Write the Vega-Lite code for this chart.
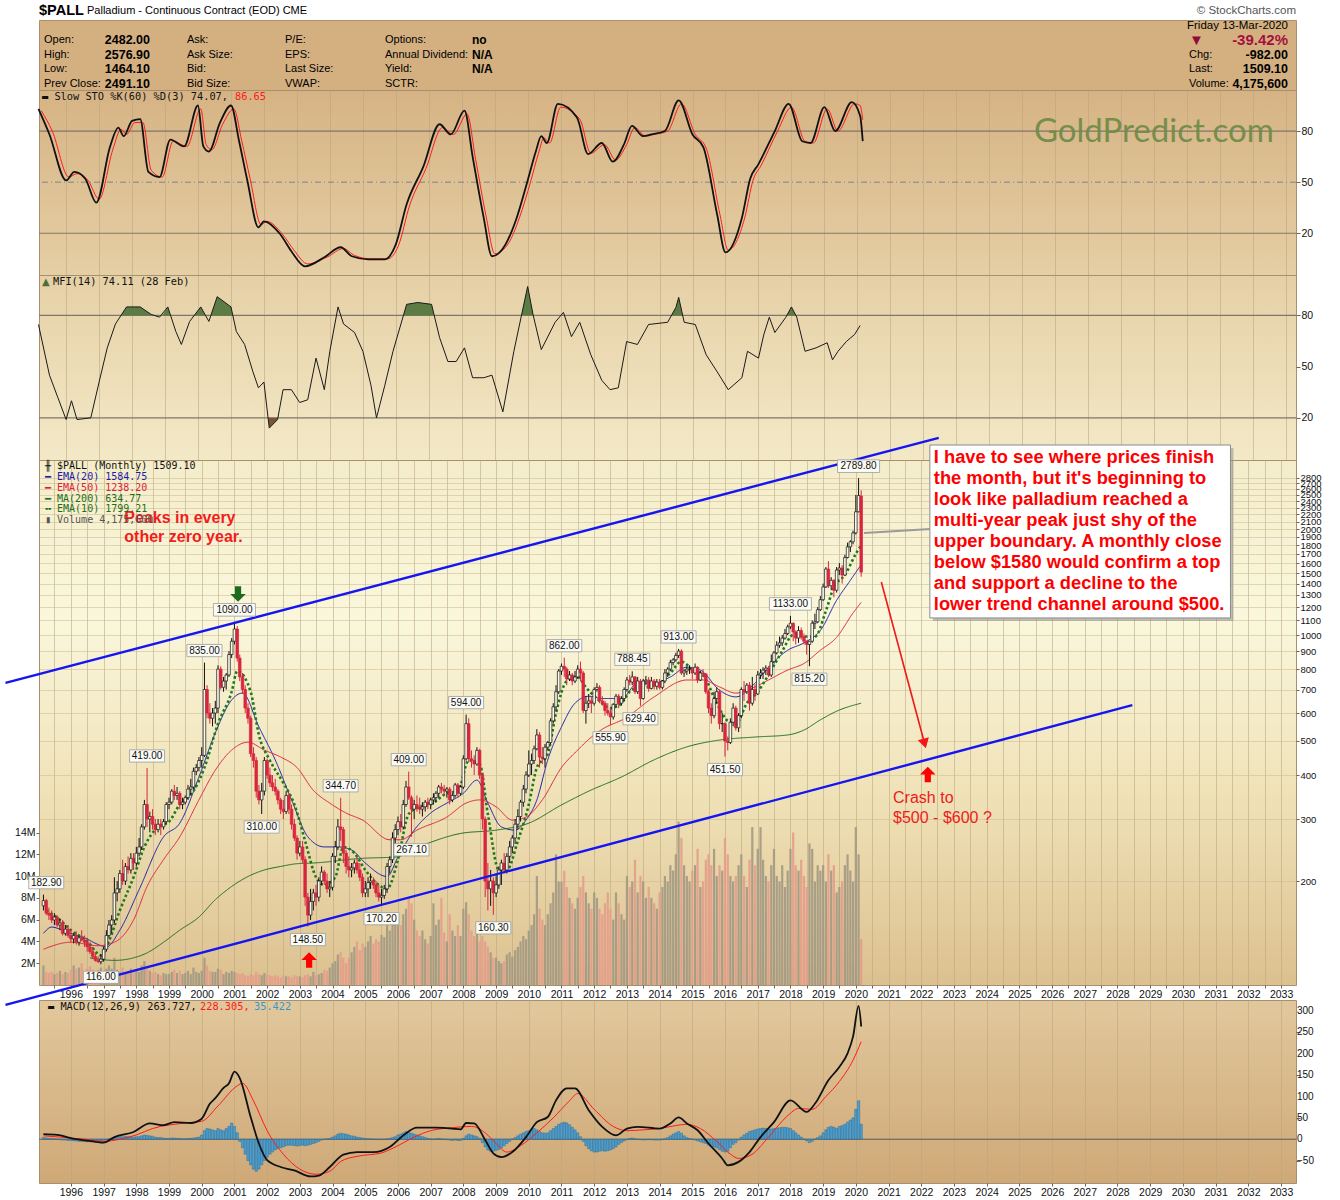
{
  "$schema": "https://vega.github.io/schema/vega-lite/v6.json",
  "background": "#ffffff",
  "padding": {"left": 0, "top": 2, "right": 0, "bottom": 0},
  "config": {
    "view": {"stroke": "#a8906e", "strokeWidth": 1},
    "font": "Liberation Sans",
    "axis": {
      "labelFont": "Liberation Sans", "labelFontSize": 10, "labelColor": "#111111", "labelOverlap": false,
      "domain": false, "tickColor": "#6e6455", "gridColor": "#b9a47e", "gridOpacity": 0.55, "gridWidth": 1
    }
  },
  "datasets": {
    "px": [
      {"d":"1995-03","o":170,"h":182.9,"l":165,"c":176,"v":1.8,"hs":4},
      {"d":"1995-04","o":176,"h":178,"l":160,"c":162,"v":1.2,"hs":3},
      {"d":"1995-05","o":162,"h":168,"l":155,"c":160,"v":1.1,"hs":2},
      {"d":"1995-06","o":160,"h":165,"l":152,"c":155,"v":1.2,"hs":2},
      {"d":"1995-07","o":155,"h":162,"l":150,"c":158,"v":1.0,"hs":1},
      {"d":"1995-08","o":158,"h":160,"l":148,"c":150,"v":1.1,"hs":0},
      {"d":"1995-09","o":150,"h":156,"l":145,"c":152,"v":1.3,"hs":-1},
      {"d":"1995-10","o":152,"h":155,"l":140,"c":142,"v":1.0,"hs":-2},
      {"d":"1995-11","o":142,"h":150,"l":140,"c":146,"v":1.2,"hs":-2},
      {"d":"1995-12","o":146,"h":150,"l":138,"c":140,"v":1.1,"hs":-3},
      {"d":"1996-01","o":140,"h":146,"l":134,"c":137,"v":1.4,"hs":-3},
      {"d":"1996-02","o":137,"h":142,"l":133,"c":140,"v":1.8,"hs":-4},
      {"d":"1996-03","o":140,"h":144,"l":132,"c":134,"v":1.5,"hs":-4},
      {"d":"1996-04","o":134,"h":140,"l":131,"c":138,"v":1.6,"hs":-5},
      {"d":"1996-05","o":138,"h":145,"l":135,"c":136,"v":2.0,"hs":-5},
      {"d":"1996-06","o":136,"h":140,"l":130,"c":134,"v":1.3,"hs":-5},
      {"d":"1996-07","o":134,"h":138,"l":126,"c":130,"v":1.5,"hs":-6},
      {"d":"1996-08","o":130,"h":134,"l":124,"c":126,"v":1.7,"hs":-6},
      {"d":"1996-09","o":126,"h":130,"l":120,"c":122,"v":1.4,"hs":-6},
      {"d":"1996-10","o":122,"h":125,"l":118,"c":119,"v":1.2,"hs":-5},
      {"d":"1996-11","o":119,"h":122,"l":117,"c":118,"v":1.4,"hs":-5},
      {"d":"1996-12","o":118,"h":124,"l":116,"c":120,"v":1.6,"hs":-4},
      {"d":"1997-01","o":120,"h":130,"l":118,"c":128,"v":1.2,"hs":-3},
      {"d":"1997-02","o":128,"h":145,"l":126,"c":140,"v":1.5,"hs":-1},
      {"d":"1997-03","o":140,"h":155,"l":138,"c":150,"v":1.8,"hs":1},
      {"d":"1997-04","o":150,"h":160,"l":142,"c":155,"v":1.5,"hs":3},
      {"d":"1997-05","o":155,"h":205,"l":152,"c":185,"v":2.5,"hs":5},
      {"d":"1997-06","o":185,"h":200,"l":175,"c":190,"v":1.4,"hs":6},
      {"d":"1997-07","o":190,"h":215,"l":185,"c":210,"v":1.2,"hs":6},
      {"d":"1997-08","o":210,"h":230,"l":195,"c":200,"v":1.6,"hs":6},
      {"d":"1997-09","o":200,"h":225,"l":195,"c":220,"v":1.1,"hs":7},
      {"d":"1997-10","o":220,"h":235,"l":210,"c":215,"v":1.3,"hs":6},
      {"d":"1997-11","o":215,"h":240,"l":210,"c":232,"v":1.5,"hs":6},
      {"d":"1997-12","o":232,"h":240,"l":215,"c":225,"v":1.2,"hs":5},
      {"d":"1998-01","o":225,"h":250,"l":220,"c":240,"v":1.4,"hs":6},
      {"d":"1998-02","o":240,"h":265,"l":235,"c":250,"v":1.2,"hs":6},
      {"d":"1998-03","o":250,"h":290,"l":245,"c":285,"v":1.8,"hs":8},
      {"d":"1998-04","o":285,"h":340,"l":280,"c":330,"v":2.2,"hs":10},
      {"d":"1998-05","o":330,"h":419,"l":285,"c":300,"v":1.5,"hs":9},
      {"d":"1998-06","o":300,"h":315,"l":275,"c":305,"v":1.3,"hs":8},
      {"d":"1998-07","o":305,"h":320,"l":280,"c":290,"v":1.1,"hs":7},
      {"d":"1998-08","o":290,"h":300,"l":270,"c":280,"v":1.2,"hs":5},
      {"d":"1998-09","o":280,"h":300,"l":275,"c":290,"v":1.0,"hs":4},
      {"d":"1998-10","o":290,"h":300,"l":270,"c":285,"v":0.9,"hs":4},
      {"d":"1998-11","o":285,"h":300,"l":280,"c":295,"v":1.1,"hs":3},
      {"d":"1998-12","o":295,"h":335,"l":290,"c":330,"v":1.0,"hs":2},
      {"d":"1999-01","o":330,"h":345,"l":320,"c":335,"v":1.0,"hs":2},
      {"d":"1999-02","o":335,"h":365,"l":330,"c":360,"v":1.2,"hs":3},
      {"d":"1999-03","o":360,"h":375,"l":340,"c":350,"v":1.4,"hs":3},
      {"d":"1999-04","o":350,"h":370,"l":340,"c":355,"v":1.1,"hs":2},
      {"d":"1999-05","o":355,"h":360,"l":320,"c":330,"v":1.3,"hs":2},
      {"d":"1999-06","o":330,"h":345,"l":320,"c":335,"v":1.0,"hs":1},
      {"d":"1999-07","o":335,"h":350,"l":330,"c":345,"v":1.1,"hs":1},
      {"d":"1999-08","o":345,"h":375,"l":340,"c":365,"v":1.3,"hs":2},
      {"d":"1999-09","o":365,"h":390,"l":350,"c":370,"v":1.0,"hs":2},
      {"d":"1999-10","o":370,"h":420,"l":365,"c":410,"v":1.6,"hs":3},
      {"d":"1999-11","o":410,"h":430,"l":400,"c":420,"v":1.2,"hs":4},
      {"d":"1999-12","o":420,"h":450,"l":410,"c":440,"v":1.1,"hs":5},
      {"d":"2000-01","o":440,"h":480,"l":420,"c":455,"v":1.3,"hs":10},
      {"d":"2000-02","o":455,"h":835,"l":450,"c":700,"v":2.5,"hs":20},
      {"d":"2000-03","o":700,"h":720,"l":580,"c":600,"v":1.8,"hs":25},
      {"d":"2000-04","o":600,"h":640,"l":560,"c":580,"v":1.3,"hs":24},
      {"d":"2000-05","o":580,"h":620,"l":550,"c":600,"v":1.2,"hs":22},
      {"d":"2000-06","o":600,"h":650,"l":560,"c":620,"v":1.2,"hs":20},
      {"d":"2000-07","o":620,"h":820,"l":600,"c":800,"v":1.5,"hs":25},
      {"d":"2000-08","o":800,"h":815,"l":700,"c":710,"v":1.4,"hs":22},
      {"d":"2000-09","o":710,"h":760,"l":690,"c":740,"v":1.0,"hs":20},
      {"d":"2000-10","o":740,"h":780,"l":700,"c":770,"v":1.2,"hs":25},
      {"d":"2000-11","o":770,"h":900,"l":760,"c":880,"v":1.1,"hs":30},
      {"d":"2000-12","o":880,"h":980,"l":860,"c":960,"v":1.3,"hs":38},
      {"d":"2001-01","o":960,"h":1090,"l":940,"c":1040,"v":1.2,"hs":30},
      {"d":"2001-02","o":1040,"h":1060,"l":840,"c":860,"v":1.1,"hs":15},
      {"d":"2001-03","o":860,"h":880,"l":740,"c":760,"v":1.0,"hs":-5},
      {"d":"2001-04","o":760,"h":780,"l":680,"c":700,"v":1.1,"hs":-20},
      {"d":"2001-05","o":700,"h":720,"l":600,"c":620,"v":0.9,"hs":-35},
      {"d":"2001-06","o":620,"h":640,"l":560,"c":580,"v":0.8,"hs":-50},
      {"d":"2001-07","o":580,"h":590,"l":450,"c":460,"v":1.0,"hs":-60},
      {"d":"2001-08","o":460,"h":480,"l":420,"c":440,"v":0.9,"hs":-70},
      {"d":"2001-09","o":440,"h":450,"l":345,"c":360,"v":1.2,"hs":-75},
      {"d":"2001-10","o":360,"h":375,"l":330,"c":340,"v":1.0,"hs":-70},
      {"d":"2001-11","o":340,"h":380,"l":310,"c":360,"v":0.9,"hs":-60},
      {"d":"2001-12","o":360,"h":450,"l":350,"c":440,"v":1.1,"hs":-50},
      {"d":"2002-01","o":440,"h":445,"l":390,"c":400,"v":1.0,"hs":-42},
      {"d":"2002-02","o":400,"h":420,"l":370,"c":380,"v":0.9,"hs":-35},
      {"d":"2002-03","o":380,"h":400,"l":360,"c":370,"v":0.8,"hs":-30},
      {"d":"2002-04","o":370,"h":390,"l":350,"c":360,"v":0.9,"hs":-25},
      {"d":"2002-05","o":360,"h":365,"l":330,"c":340,"v":0.8,"hs":-22},
      {"d":"2002-06","o":340,"h":345,"l":310,"c":320,"v":0.7,"hs":-20},
      {"d":"2002-07","o":320,"h":340,"l":300,"c":315,"v":0.9,"hs":-18},
      {"d":"2002-08","o":315,"h":360,"l":310,"c":350,"v":0.8,"hs":-15},
      {"d":"2002-09","o":350,"h":355,"l":310,"c":320,"v":0.8,"hs":-14},
      {"d":"2002-10","o":320,"h":330,"l":280,"c":290,"v":0.7,"hs":-14},
      {"d":"2002-11","o":290,"h":300,"l":260,"c":265,"v":0.9,"hs":-15},
      {"d":"2002-12","o":265,"h":270,"l":230,"c":240,"v":0.8,"hs":-16},
      {"d":"2003-01","o":240,"h":260,"l":235,"c":250,"v":0.8,"hs":-15},
      {"d":"2003-02","o":250,"h":260,"l":225,"c":230,"v":0.7,"hs":-14},
      {"d":"2003-03","o":230,"h":235,"l":170,"c":180,"v":0.9,"hs":-15},
      {"d":"2003-04","o":180,"h":185,"l":148.5,"c":160,"v":1.0,"hs":-14},
      {"d":"2003-05","o":160,"h":190,"l":155,"c":175,"v":0.8,"hs":-12},
      {"d":"2003-06","o":175,"h":190,"l":165,"c":185,"v":1.2,"hs":-10},
      {"d":"2003-07","o":185,"h":195,"l":170,"c":180,"v":0.9,"hs":-8},
      {"d":"2003-08","o":180,"h":205,"l":175,"c":200,"v":1.0,"hs":-5},
      {"d":"2003-09","o":200,"h":220,"l":195,"c":212,"v":1.1,"hs":-2},
      {"d":"2003-10","o":212,"h":215,"l":195,"c":200,"v":1.4,"hs":0},
      {"d":"2003-11","o":200,"h":210,"l":185,"c":190,"v":1.3,"hs":1},
      {"d":"2003-12","o":190,"h":200,"l":180,"c":192,"v":1.6,"hs":2},
      {"d":"2004-01","o":192,"h":240,"l":188,"c":235,"v":2.0,"hs":5},
      {"d":"2004-02","o":235,"h":260,"l":225,"c":250,"v":2.2,"hs":8},
      {"d":"2004-03","o":250,"h":300,"l":245,"c":285,"v":2.8,"hs":12},
      {"d":"2004-04","o":285,"h":344.7,"l":260,"c":280,"v":3.0,"hs":14},
      {"d":"2004-05","o":280,"h":285,"l":225,"c":240,"v":2.5,"hs":13},
      {"d":"2004-06","o":240,"h":245,"l":210,"c":220,"v":2.0,"hs":12},
      {"d":"2004-07","o":220,"h":235,"l":205,"c":215,"v":2.5,"hs":10},
      {"d":"2004-08","o":215,"h":225,"l":205,"c":218,"v":3.0,"hs":8},
      {"d":"2004-09","o":218,"h":230,"l":210,"c":225,"v":3.5,"hs":7},
      {"d":"2004-10","o":225,"h":235,"l":210,"c":215,"v":4.0,"hs":5},
      {"d":"2004-11","o":215,"h":225,"l":200,"c":205,"v":3.2,"hs":4},
      {"d":"2004-12","o":205,"h":210,"l":180,"c":185,"v":3.8,"hs":3},
      {"d":"2005-01","o":185,"h":200,"l":180,"c":190,"v":3.5,"hs":2},
      {"d":"2005-02","o":190,"h":205,"l":180,"c":198,"v":4.0,"hs":1},
      {"d":"2005-03","o":198,"h":210,"l":190,"c":200,"v":4.5,"hs":1},
      {"d":"2005-04","o":200,"h":205,"l":190,"c":195,"v":3.8,"hs":0},
      {"d":"2005-05","o":195,"h":200,"l":180,"c":185,"v":4.2,"hs":0},
      {"d":"2005-06","o":185,"h":195,"l":175,"c":180,"v":4.0,"hs":-1},
      {"d":"2005-07","o":180,"h":190,"l":170.2,"c":182,"v":4.6,"hs":0},
      {"d":"2005-08","o":182,"h":195,"l":178,"c":190,"v":4.4,"hs":0},
      {"d":"2005-09","o":190,"h":225,"l":185,"c":220,"v":5.5,"hs":1},
      {"d":"2005-10","o":220,"h":235,"l":210,"c":230,"v":5.0,"hs":2},
      {"d":"2005-11","o":230,"h":275,"l":225,"c":265,"v":6.0,"hs":4},
      {"d":"2005-12","o":265,"h":290,"l":255,"c":280,"v":6.4,"hs":6},
      {"d":"2006-01","o":280,"h":305,"l":270,"c":295,"v":6.0,"hs":10},
      {"d":"2006-02","o":295,"h":310,"l":275,"c":285,"v":5.5,"hs":12},
      {"d":"2006-03","o":285,"h":340,"l":280,"c":330,"v":6.5,"hs":15},
      {"d":"2006-04","o":330,"h":385,"l":325,"c":370,"v":7.0,"hs":18},
      {"d":"2006-05","o":370,"h":409,"l":340,"c":345,"v":8.0,"hs":16},
      {"d":"2006-06","o":345,"h":350,"l":267.1,"c":320,"v":7.5,"hs":14},
      {"d":"2006-07","o":320,"h":340,"l":300,"c":330,"v":6.0,"hs":12},
      {"d":"2006-08","o":330,"h":350,"l":315,"c":325,"v":5.0,"hs":10},
      {"d":"2006-09","o":325,"h":345,"l":310,"c":320,"v":4.5,"hs":8},
      {"d":"2006-10","o":320,"h":335,"l":305,"c":325,"v":5.0,"hs":6},
      {"d":"2006-11","o":325,"h":340,"l":315,"c":335,"v":4.2,"hs":4},
      {"d":"2006-12","o":335,"h":345,"l":320,"c":330,"v":3.8,"hs":2},
      {"d":"2007-01","o":330,"h":345,"l":320,"c":340,"v":4.5,"hs":1},
      {"d":"2007-02","o":340,"h":355,"l":330,"c":345,"v":7.5,"hs":0},
      {"d":"2007-03","o":345,"h":360,"l":335,"c":355,"v":5.5,"hs":1},
      {"d":"2007-04","o":355,"h":375,"l":345,"c":370,"v":6.0,"hs":2},
      {"d":"2007-05","o":370,"h":380,"l":355,"c":365,"v":8.0,"hs":1},
      {"d":"2007-06","o":365,"h":375,"l":350,"c":360,"v":4.8,"hs":0},
      {"d":"2007-07","o":360,"h":370,"l":345,"c":365,"v":4.0,"hs":-1},
      {"d":"2007-08","o":365,"h":370,"l":330,"c":340,"v":6.5,"hs":-2},
      {"d":"2007-09","o":340,"h":355,"l":335,"c":350,"v":5.0,"hs":-3},
      {"d":"2007-10","o":350,"h":380,"l":345,"c":375,"v":4.5,"hs":-2},
      {"d":"2007-11","o":375,"h":380,"l":345,"c":355,"v":5.5,"hs":-3},
      {"d":"2007-12","o":355,"h":375,"l":350,"c":370,"v":4.5,"hs":-3},
      {"d":"2008-01","o":370,"h":455,"l":365,"c":445,"v":7.0,"hs":2},
      {"d":"2008-02","o":445,"h":594,"l":440,"c":560,"v":7.6,"hs":8},
      {"d":"2008-03","o":560,"h":580,"l":435,"c":445,"v":6.5,"hs":12},
      {"d":"2008-04","o":445,"h":470,"l":420,"c":440,"v":5.0,"hs":10},
      {"d":"2008-05","o":440,"h":455,"l":400,"c":430,"v":4.5,"hs":8},
      {"d":"2008-06","o":430,"h":480,"l":425,"c":470,"v":5.0,"hs":6},
      {"d":"2008-07","o":470,"h":475,"l":390,"c":400,"v":4.0,"hs":2},
      {"d":"2008-08","o":400,"h":405,"l":280,"c":300,"v":4.5,"hs":-8},
      {"d":"2008-09","o":300,"h":305,"l":180,"c":200,"v":4.0,"hs":-18},
      {"d":"2008-10","o":200,"h":225,"l":165,"c":190,"v":3.5,"hs":-25},
      {"d":"2008-11","o":190,"h":215,"l":170,"c":200,"v":3.0,"hs":-28},
      {"d":"2008-12","o":200,"h":205,"l":160.3,"c":185,"v":2.5,"hs":-28},
      {"d":"2009-01","o":185,"h":210,"l":180,"c":195,"v":2.5,"hs":-26},
      {"d":"2009-02","o":195,"h":220,"l":190,"c":215,"v":2.2,"hs":-24},
      {"d":"2009-03","o":215,"h":230,"l":195,"c":225,"v":2.0,"hs":-20},
      {"d":"2009-04","o":225,"h":240,"l":210,"c":215,"v":2.2,"hs":-15},
      {"d":"2009-05","o":215,"h":240,"l":210,"c":235,"v":2.8,"hs":-10},
      {"d":"2009-06","o":235,"h":260,"l":225,"c":250,"v":3.0,"hs":-5},
      {"d":"2009-07","o":250,"h":270,"l":240,"c":265,"v":2.6,"hs":0},
      {"d":"2009-08","o":265,"h":300,"l":255,"c":290,"v":3.2,"hs":4},
      {"d":"2009-09","o":290,"h":320,"l":280,"c":305,"v":3.5,"hs":8},
      {"d":"2009-10","o":305,"h":340,"l":295,"c":335,"v":4.0,"hs":12},
      {"d":"2009-11","o":335,"h":375,"l":325,"c":365,"v":4.5,"hs":15},
      {"d":"2009-12","o":365,"h":410,"l":355,"c":400,"v":4.2,"hs":18},
      {"d":"2010-01","o":400,"h":470,"l":395,"c":430,"v":5.0,"hs":20},
      {"d":"2010-02","o":430,"h":460,"l":400,"c":440,"v":5.5,"hs":22},
      {"d":"2010-03","o":440,"h":485,"l":430,"c":475,"v":6.5,"hs":25},
      {"d":"2010-04","o":475,"h":540,"l":470,"c":520,"v":10.0,"hs":22},
      {"d":"2010-05","o":520,"h":530,"l":420,"c":450,"v":7.0,"hs":18},
      {"d":"2010-06","o":450,"h":480,"l":430,"c":445,"v":6.0,"hs":15},
      {"d":"2010-07","o":445,"h":490,"l":420,"c":480,"v":5.5,"hs":14},
      {"d":"2010-08","o":480,"h":500,"l":470,"c":495,"v":6.5,"hs":15},
      {"d":"2010-09","o":495,"h":580,"l":490,"c":570,"v":7.5,"hs":20},
      {"d":"2010-10","o":570,"h":640,"l":560,"c":625,"v":8.5,"hs":25},
      {"d":"2010-11","o":625,"h":720,"l":610,"c":690,"v":12.0,"hs":30},
      {"d":"2010-12","o":690,"h":800,"l":680,"c":790,"v":9.5,"hs":35},
      {"d":"2011-01","o":790,"h":830,"l":770,"c":815,"v":9.5,"hs":38},
      {"d":"2011-02","o":815,"h":862,"l":760,"c":800,"v":10.5,"hs":40},
      {"d":"2011-03","o":800,"h":810,"l":720,"c":750,"v":9.0,"hs":38},
      {"d":"2011-04","o":750,"h":790,"l":740,"c":770,"v":8.0,"hs":34},
      {"d":"2011-05","o":770,"h":780,"l":720,"c":740,"v":7.5,"hs":28},
      {"d":"2011-06","o":740,"h":790,"l":730,"c":760,"v":7.0,"hs":22},
      {"d":"2011-07","o":760,"h":820,"l":750,"c":800,"v":8.0,"hs":15},
      {"d":"2011-08","o":800,"h":840,"l":740,"c":780,"v":9.0,"hs":6},
      {"d":"2011-09","o":780,"h":790,"l":600,"c":610,"v":10.0,"hs":-5},
      {"d":"2011-10","o":610,"h":670,"l":560,"c":640,"v":8.5,"hs":-15},
      {"d":"2011-11","o":640,"h":680,"l":620,"c":650,"v":7.5,"hs":-22},
      {"d":"2011-12","o":650,"h":670,"l":600,"c":640,"v":7.0,"hs":-27},
      {"d":"2012-01","o":640,"h":710,"l":630,"c":700,"v":8.5,"hs":-30},
      {"d":"2012-02","o":700,"h":730,"l":690,"c":710,"v":8.0,"hs":-30},
      {"d":"2012-03","o":710,"h":720,"l":640,"c":650,"v":7.0,"hs":-28},
      {"d":"2012-04","o":650,"h":670,"l":630,"c":640,"v":6.5,"hs":-27},
      {"d":"2012-05","o":640,"h":650,"l":590,"c":610,"v":7.5,"hs":-28},
      {"d":"2012-06","o":610,"h":640,"l":590,"c":600,"v":8.5,"hs":-27},
      {"d":"2012-07","o":600,"h":620,"l":555.9,"c":585,"v":7.0,"hs":-25},
      {"d":"2012-08","o":585,"h":640,"l":575,"c":635,"v":6.0,"hs":-22},
      {"d":"2012-09","o":635,"h":680,"l":625,"c":670,"v":8.5,"hs":-18},
      {"d":"2012-10","o":670,"h":680,"l":620,"c":640,"v":7.5,"hs":-12},
      {"d":"2012-11","o":640,"h":670,"l":630,"c":660,"v":6.5,"hs":-8},
      {"d":"2012-12","o":660,"h":710,"l":650,"c":700,"v":6.0,"hs":-4},
      {"d":"2013-01","o":700,"h":760,"l":690,"c":745,"v":10.0,"hs":-1},
      {"d":"2013-02","o":745,"h":770,"l":720,"c":735,"v":9.0,"hs":2},
      {"d":"2013-03","o":735,"h":788.45,"l":720,"c":760,"v":9.5,"hs":3},
      {"d":"2013-04","o":760,"h":765,"l":680,"c":690,"v":11.5,"hs":1},
      {"d":"2013-05","o":690,"h":760,"l":680,"c":740,"v":8.5,"hs":0},
      {"d":"2013-06","o":740,"h":750,"l":629.4,"c":660,"v":10.0,"hs":-1},
      {"d":"2013-07","o":660,"h":750,"l":655,"c":740,"v":9.5,"hs":-2},
      {"d":"2013-08","o":740,"h":765,"l":720,"c":745,"v":8.0,"hs":-1},
      {"d":"2013-09","o":745,"h":760,"l":690,"c":705,"v":9.0,"hs":-1},
      {"d":"2013-10","o":705,"h":760,"l":700,"c":740,"v":8.0,"hs":-1},
      {"d":"2013-11","o":740,"h":750,"l":700,"c":715,"v":7.5,"hs":-2},
      {"d":"2013-12","o":715,"h":750,"l":700,"c":735,"v":7.0,"hs":-2},
      {"d":"2014-01","o":735,"h":750,"l":700,"c":710,"v":8.5,"hs":-2},
      {"d":"2014-02","o":710,"h":745,"l":700,"c":740,"v":9.0,"hs":-1},
      {"d":"2014-03","o":740,"h":800,"l":730,"c":780,"v":10.0,"hs":1},
      {"d":"2014-04","o":780,"h":810,"l":760,"c":800,"v":9.5,"hs":4},
      {"d":"2014-05","o":800,"h":850,"l":790,"c":835,"v":11.0,"hs":8},
      {"d":"2014-06","o":835,"h":860,"l":820,"c":850,"v":10.5,"hs":12},
      {"d":"2014-07","o":850,"h":890,"l":840,"c":875,"v":12.0,"hs":15},
      {"d":"2014-08","o":875,"h":913,"l":860,"c":900,"v":15.0,"hs":18},
      {"d":"2014-09","o":900,"h":910,"l":770,"c":780,"v":13.5,"hs":14},
      {"d":"2014-10","o":780,"h":800,"l":760,"c":790,"v":11.0,"hs":8},
      {"d":"2014-11","o":790,"h":815,"l":770,"c":800,"v":10.0,"hs":4},
      {"d":"2014-12","o":800,"h":820,"l":775,"c":800,"v":9.5,"hs":2},
      {"d":"2015-01","o":800,"h":810,"l":750,"c":780,"v":10.5,"hs":0},
      {"d":"2015-02","o":780,"h":830,"l":770,"c":810,"v":11.0,"hs":-2},
      {"d":"2015-03","o":810,"h":815,"l":730,"c":745,"v":12.5,"hs":-4},
      {"d":"2015-04","o":745,"h":790,"l":740,"c":780,"v":9.0,"hs":-6},
      {"d":"2015-05","o":780,"h":800,"l":760,"c":775,"v":9.5,"hs":-8},
      {"d":"2015-06","o":775,"h":780,"l":680,"c":690,"v":11.5,"hs":-10},
      {"d":"2015-07","o":690,"h":700,"l":600,"c":620,"v":12.0,"hs":-14},
      {"d":"2015-08","o":620,"h":640,"l":560,"c":590,"v":11.0,"hs":-18},
      {"d":"2015-09","o":590,"h":690,"l":580,"c":660,"v":12.5,"hs":-18},
      {"d":"2015-10","o":660,"h":710,"l":640,"c":690,"v":10.0,"hs":-20},
      {"d":"2015-11","o":690,"h":700,"l":540,"c":560,"v":11.0,"hs":-24},
      {"d":"2015-12","o":560,"h":600,"l":530,"c":560,"v":10.5,"hs":-28},
      {"d":"2016-01","o":560,"h":565,"l":451.5,"c":500,"v":13.5,"hs":-30},
      {"d":"2016-02","o":500,"h":515,"l":470,"c":495,"v":12.0,"hs":-28},
      {"d":"2016-03","o":495,"h":580,"l":490,"c":565,"v":10.0,"hs":-20},
      {"d":"2016-04","o":565,"h":640,"l":550,"c":620,"v":9.5,"hs":-12},
      {"d":"2016-05","o":620,"h":630,"l":535,"c":545,"v":10.0,"hs":-8},
      {"d":"2016-06","o":545,"h":600,"l":530,"c":590,"v":11.0,"hs":-2},
      {"d":"2016-07","o":590,"h":710,"l":580,"c":700,"v":12.0,"hs":5},
      {"d":"2016-08","o":700,"h":740,"l":650,"c":690,"v":10.0,"hs":10},
      {"d":"2016-09","o":690,"h":730,"l":680,"c":720,"v":9.0,"hs":14},
      {"d":"2016-10","o":720,"h":735,"l":610,"c":640,"v":11.5,"hs":18},
      {"d":"2016-11","o":640,"h":760,"l":630,"c":700,"v":14.5,"hs":20},
      {"d":"2016-12","o":700,"h":725,"l":650,"c":680,"v":11.0,"hs":22},
      {"d":"2017-01","o":680,"h":790,"l":675,"c":770,"v":12.5,"hs":24},
      {"d":"2017-02","o":770,"h":800,"l":750,"c":780,"v":14.5,"hs":25},
      {"d":"2017-03","o":780,"h":810,"l":750,"c":795,"v":11.5,"hs":26},
      {"d":"2017-04","o":795,"h":820,"l":770,"c":805,"v":10.0,"hs":25},
      {"d":"2017-05","o":805,"h":815,"l":760,"c":770,"v":9.5,"hs":24},
      {"d":"2017-06","o":770,"h":880,"l":760,"c":840,"v":11.0,"hs":24},
      {"d":"2017-07","o":840,"h":900,"l":830,"c":890,"v":12.5,"hs":25},
      {"d":"2017-08","o":890,"h":960,"l":880,"c":935,"v":10.0,"hs":26},
      {"d":"2017-09","o":935,"h":990,"l":920,"c":950,"v":9.5,"hs":27},
      {"d":"2017-10","o":950,"h":1000,"l":930,"c":980,"v":11.0,"hs":28},
      {"d":"2017-11","o":980,"h":1040,"l":970,"c":1010,"v":9.0,"hs":28},
      {"d":"2017-12","o":1010,"h":1070,"l":1000,"c":1055,"v":10.5,"hs":27},
      {"d":"2018-01","o":1055,"h":1133,"l":1040,"c":1080,"v":12.5,"hs":25},
      {"d":"2018-02","o":1080,"h":1085,"l":960,"c":1020,"v":14.0,"hs":20},
      {"d":"2018-03","o":1020,"h":1030,"l":940,"c":980,"v":11.0,"hs":15},
      {"d":"2018-04","o":980,"h":1060,"l":950,"c":1030,"v":10.5,"hs":10},
      {"d":"2018-05","o":1030,"h":1050,"l":970,"c":990,"v":11.5,"hs":5},
      {"d":"2018-06","o":990,"h":1010,"l":940,"c":960,"v":10.0,"hs":0},
      {"d":"2018-07","o":960,"h":965,"l":880,"c":940,"v":9.0,"hs":-4},
      {"d":"2018-08","o":940,"h":960,"l":815.2,"c":960,"v":13.0,"hs":-8},
      {"d":"2018-09","o":960,"h":1100,"l":950,"c":1080,"v":12.5,"hs":-5},
      {"d":"2018-10","o":1080,"h":1150,"l":1040,"c":1090,"v":9.5,"hs":0},
      {"d":"2018-11","o":1090,"h":1200,"l":1080,"c":1180,"v":11.0,"hs":4},
      {"d":"2018-12","o":1180,"h":1290,"l":1170,"c":1260,"v":10.5,"hs":8},
      {"d":"2019-01","o":1260,"h":1400,"l":1250,"c":1370,"v":11.0,"hs":15},
      {"d":"2019-02","o":1370,"h":1560,"l":1360,"c":1540,"v":9.5,"hs":22},
      {"d":"2019-03","o":1540,"h":1620,"l":1360,"c":1380,"v":12.0,"hs":28},
      {"d":"2019-04","o":1380,"h":1460,"l":1340,"c":1430,"v":10.5,"hs":30},
      {"d":"2019-05","o":1430,"h":1440,"l":1280,"c":1340,"v":11.0,"hs":28},
      {"d":"2019-06","o":1340,"h":1560,"l":1320,"c":1530,"v":8.5,"hs":26},
      {"d":"2019-07","o":1530,"h":1600,"l":1480,"c":1550,"v":9.0,"hs":30},
      {"d":"2019-08","o":1550,"h":1580,"l":1400,"c":1480,"v":9.5,"hs":32},
      {"d":"2019-09","o":1480,"h":1690,"l":1470,"c":1660,"v":11.0,"hs":35},
      {"d":"2019-10","o":1660,"h":1830,"l":1650,"c":1780,"v":12.0,"hs":40},
      {"d":"2019-11","o":1780,"h":1860,"l":1720,"c":1840,"v":10.5,"hs":45},
      {"d":"2019-12","o":1840,"h":1980,"l":1810,"c":1950,"v":9.5,"hs":50},
      {"d":"2020-01","o":1950,"h":2500,"l":1930,"c":2240,"v":14.5,"hs":70},
      {"d":"2020-02","o":2240,"h":2789.8,"l":2230,"c":2491.1,"v":12.0,"hs":90},
      {"d":"2020-03","o":2482,"h":2576.9,"l":1464.1,"c":1509.1,"v":4.2,"hs":35}
    ],
    "ma": [
      {"s":"EMA(20)","d":"1995-03","v":142},{"s":"EMA(20)","d":"1995-06","v":148},{"s":"EMA(20)","d":"1995-09","v":146},{"s":"EMA(20)","d":"1996-01","v":142},
      {"s":"EMA(20)","d":"1996-06","v":138},{"s":"EMA(20)","d":"1996-11","v":132},{"s":"EMA(20)","d":"1997-02","v":130},{"s":"EMA(20)","d":"1997-07","v":145},
      {"s":"EMA(20)","d":"1998-02","v":189},{"s":"EMA(20)","d":"1998-11","v":267},{"s":"EMA(20)","d":"1999-05","v":292},{"s":"EMA(20)","d":"1999-12","v":395},
      {"s":"EMA(20)","d":"2000-06","v":527},{"s":"EMA(20)","d":"2000-12","v":654},{"s":"EMA(20)","d":"2001-04","v":684},{"s":"EMA(20)","d":"2001-10","v":548},
      {"s":"EMA(20)","d":"2002-04","v":442},{"s":"EMA(20)","d":"2002-10","v":340},{"s":"EMA(20)","d":"2003-04","v":267},{"s":"EMA(20)","d":"2003-10","v":250},
      {"s":"EMA(20)","d":"2004-03","v":250},{"s":"EMA(20)","d":"2004-08","v":245},{"s":"EMA(20)","d":"2005-01","v":225},{"s":"EMA(20)","d":"2005-09","v":206},
      {"s":"EMA(20)","d":"2006-01","v":234},{"s":"EMA(20)","d":"2006-07","v":279},{"s":"EMA(20)","d":"2007-01","v":312},{"s":"EMA(20)","d":"2007-07","v":333},
      {"s":"EMA(20)","d":"2008-01","v":355},{"s":"EMA(20)","d":"2008-06","v":387},{"s":"EMA(20)","d":"2008-10","v":333},{"s":"EMA(20)","d":"2009-03","v":285},
      {"s":"EMA(20)","d":"2009-08","v":279},{"s":"EMA(20)","d":"2009-12","v":298},{"s":"EMA(20)","d":"2010-04","v":340},{"s":"EMA(20)","d":"2010-08","v":442},
      {"s":"EMA(20)","d":"2011-01","v":548},{"s":"EMA(20)","d":"2011-06","v":640},{"s":"EMA(20)","d":"2011-11","v":670},{"s":"EMA(20)","d":"2012-04","v":660},
      {"s":"EMA(20)","d":"2012-11","v":660},{"s":"EMA(20)","d":"2013-05","v":730},{"s":"EMA(20)","d":"2013-11","v":730},{"s":"EMA(20)","d":"2014-05","v":760},
      {"s":"EMA(20)","d":"2014-11","v":810},{"s":"EMA(20)","d":"2015-04","v":795},{"s":"EMA(20)","d":"2015-11","v":697},{"s":"EMA(20)","d":"2016-05","v":667},
      {"s":"EMA(20)","d":"2016-12","v":730},{"s":"EMA(20)","d":"2017-05","v":810},{"s":"EMA(20)","d":"2017-12","v":905},{"s":"EMA(20)","d":"2018-06","v":950},
      {"s":"EMA(20)","d":"2018-12","v":1030},{"s":"EMA(20)","d":"2019-06","v":1255},{"s":"EMA(20)","d":"2019-11","v":1430},{"s":"EMA(20)","d":"2020-03","v":1585},
      {"s":"EMA(50)","d":"1995-03","v":128},{"s":"EMA(50)","d":"1996-01","v":134},{"s":"EMA(50)","d":"1996-11","v":131},{"s":"EMA(50)","d":"1997-05","v":134},
      {"s":"EMA(50)","d":"1997-12","v":155},{"s":"EMA(50)","d":"1998-05","v":193},{"s":"EMA(50)","d":"1998-11","v":230},{"s":"EMA(50)","d":"1999-05","v":267},
      {"s":"EMA(50)","d":"1999-12","v":340},{"s":"EMA(50)","d":"2000-06","v":413},{"s":"EMA(50)","d":"2000-12","v":471},{"s":"EMA(50)","d":"2001-06","v":496},
      {"s":"EMA(50)","d":"2001-12","v":471},{"s":"EMA(50)","d":"2002-06","v":450},{"s":"EMA(50)","d":"2002-12","v":420},{"s":"EMA(50)","d":"2003-06","v":362},
      {"s":"EMA(50)","d":"2003-12","v":333},{"s":"EMA(50)","d":"2004-06","v":312},{"s":"EMA(50)","d":"2004-12","v":298},{"s":"EMA(50)","d":"2005-10","v":262},
      {"s":"EMA(50)","d":"2006-02","v":262},{"s":"EMA(50)","d":"2006-08","v":279},{"s":"EMA(50)","d":"2007-07","v":304},{"s":"EMA(50)","d":"2008-02","v":333},
      {"s":"EMA(50)","d":"2008-07","v":340},{"s":"EMA(50)","d":"2009-01","v":325},{"s":"EMA(50)","d":"2009-07","v":298},{"s":"EMA(50)","d":"2009-12","v":304},
      {"s":"EMA(50)","d":"2010-06","v":340},{"s":"EMA(50)","d":"2011-01","v":420},{"s":"EMA(50)","d":"2011-07","v":471},{"s":"EMA(50)","d":"2011-11","v":505},
      {"s":"EMA(50)","d":"2012-04","v":540},{"s":"EMA(50)","d":"2012-12","v":578},{"s":"EMA(50)","d":"2013-11","v":667},{"s":"EMA(50)","d":"2014-11","v":745},
      {"s":"EMA(50)","d":"2015-05","v":745},{"s":"EMA(50)","d":"2015-11","v":712},{"s":"EMA(50)","d":"2016-05","v":684},{"s":"EMA(50)","d":"2016-12","v":712},
      {"s":"EMA(50)","d":"2017-05","v":745},{"s":"EMA(50)","d":"2017-12","v":795},{"s":"EMA(50)","d":"2018-06","v":830},{"s":"EMA(50)","d":"2018-12","v":905},
      {"s":"EMA(50)","d":"2019-06","v":985},{"s":"EMA(50)","d":"2019-12","v":1155},{"s":"EMA(50)","d":"2020-03","v":1238},
      {"s":"MA(200)","d":"1996-08","v":121},{"s":"MA(200)","d":"1997-05","v":119},{"s":"MA(200)","d":"1997-12","v":121},{"s":"MA(200)","d":"1998-05","v":125},
      {"s":"MA(200)","d":"1998-11","v":134},{"s":"MA(200)","d":"1999-05","v":145},{"s":"MA(200)","d":"1999-12","v":158},{"s":"MA(200)","d":"2000-06","v":177},
      {"s":"MA(200)","d":"2000-12","v":193},{"s":"MA(200)","d":"2001-06","v":206},{"s":"MA(200)","d":"2001-12","v":215},{"s":"MA(200)","d":"2002-06","v":220},
      {"s":"MA(200)","d":"2002-12","v":224},{"s":"MA(200)","d":"2003-06","v":225},{"s":"MA(200)","d":"2003-12","v":227},{"s":"MA(200)","d":"2004-06","v":230},
      {"s":"MA(200)","d":"2004-12","v":232},{"s":"MA(200)","d":"2005-12","v":234},{"s":"MA(200)","d":"2006-12","v":256},{"s":"MA(200)","d":"2007-12","v":273},
      {"s":"MA(200)","d":"2009-01","v":279},{"s":"MA(200)","d":"2010-01","v":292},{"s":"MA(200)","d":"2011-01","v":329},{"s":"MA(200)","d":"2011-11","v":360},
      {"s":"MA(200)","d":"2012-11","v":395},{"s":"MA(200)","d":"2013-11","v":442},{"s":"MA(200)","d":"2014-11","v":481},{"s":"MA(200)","d":"2015-11","v":503},
      {"s":"MA(200)","d":"2016-12","v":513},{"s":"MA(200)","d":"2017-12","v":520},{"s":"MA(200)","d":"2018-06","v":537},{"s":"MA(200)","d":"2018-12","v":574},
      {"s":"MA(200)","d":"2019-07","v":612},{"s":"MA(200)","d":"2020-03","v":640},
      {"s":"EMA(10)","d":"1995-04","v":165},{"s":"EMA(10)","d":"1995-09","v":155},{"s":"EMA(10)","d":"1996-01","v":145},{"s":"EMA(10)","d":"1996-07","v":135},
      {"s":"EMA(10)","d":"1996-12","v":123},{"s":"EMA(10)","d":"1997-03","v":135},{"s":"EMA(10)","d":"1997-07","v":165},{"s":"EMA(10)","d":"1997-12","v":205},
      {"s":"EMA(10)","d":"1998-04","v":250},{"s":"EMA(10)","d":"1998-09","v":285},{"s":"EMA(10)","d":"1999-01","v":295},{"s":"EMA(10)","d":"1999-05","v":330},
      {"s":"EMA(10)","d":"1999-10","v":360},{"s":"EMA(10)","d":"2000-02","v":420},{"s":"EMA(10)","d":"2000-07","v":560},{"s":"EMA(10)","d":"2000-12","v":690},
      {"s":"EMA(10)","d":"2001-02","v":790},{"s":"EMA(10)","d":"2001-07","v":690},{"s":"EMA(10)","d":"2001-10","v":520},{"s":"EMA(10)","d":"2002-02","v":440},
      {"s":"EMA(10)","d":"2002-07","v":380},{"s":"EMA(10)","d":"2002-11","v":330},{"s":"EMA(10)","d":"2003-03","v":260},{"s":"EMA(10)","d":"2003-07","v":205},
      {"s":"EMA(10)","d":"2003-10","v":195},{"s":"EMA(10)","d":"2004-02","v":205},{"s":"EMA(10)","d":"2004-05","v":250},{"s":"EMA(10)","d":"2004-09","v":240},
      {"s":"EMA(10)","d":"2005-01","v":215},{"s":"EMA(10)","d":"2005-06","v":195},{"s":"EMA(10)","d":"2005-09","v":190},{"s":"EMA(10)","d":"2006-01","v":230},
      {"s":"EMA(10)","d":"2006-05","v":310},{"s":"EMA(10)","d":"2006-09","v":325},{"s":"EMA(10)","d":"2007-01","v":330},{"s":"EMA(10)","d":"2007-07","v":355},
      {"s":"EMA(10)","d":"2007-11","v":360},{"s":"EMA(10)","d":"2008-03","v":440},{"s":"EMA(10)","d":"2008-07","v":430},{"s":"EMA(10)","d":"2008-10","v":310},
      {"s":"EMA(10)","d":"2009-02","v":215},{"s":"EMA(10)","d":"2009-05","v":215},{"s":"EMA(10)","d":"2009-09","v":260},{"s":"EMA(10)","d":"2010-01","v":330},
      {"s":"EMA(10)","d":"2010-04","v":420},{"s":"EMA(10)","d":"2010-08","v":460},{"s":"EMA(10)","d":"2010-11","v":600},{"s":"EMA(10)","d":"2011-03","v":740},
      {"s":"EMA(10)","d":"2011-07","v":760},{"s":"EMA(10)","d":"2011-10","v":710},{"s":"EMA(10)","d":"2012-02","v":660},{"s":"EMA(10)","d":"2012-07","v":620},
      {"s":"EMA(10)","d":"2012-11","v":640},{"s":"EMA(10)","d":"2013-03","v":700},{"s":"EMA(10)","d":"2013-08","v":710},{"s":"EMA(10)","d":"2014-01","v":730},
      {"s":"EMA(10)","d":"2014-05","v":780},{"s":"EMA(10)","d":"2014-09","v":840},{"s":"EMA(10)","d":"2015-01","v":800},{"s":"EMA(10)","d":"2015-05","v":770},
      {"s":"EMA(10)","d":"2015-10","v":640},{"s":"EMA(10)","d":"2016-02","v":570},{"s":"EMA(10)","d":"2016-05","v":560},{"s":"EMA(10)","d":"2016-09","v":640},
      {"s":"EMA(10)","d":"2017-01","v":690},{"s":"EMA(10)","d":"2017-05","v":770},{"s":"EMA(10)","d":"2017-10","v":900},{"s":"EMA(10)","d":"2018-02","v":1000},
      {"s":"EMA(10)","d":"2018-06","v":990},{"s":"EMA(10)","d":"2018-10","v":990},{"s":"EMA(10)","d":"2019-02","v":1170},{"s":"EMA(10)","d":"2019-05","v":1370},
      {"s":"EMA(10)","d":"2019-09","v":1480},{"s":"EMA(10)","d":"2020-01","v":1700},{"s":"EMA(10)","d":"2020-03","v":1799}
    ],
    "sto": [
      {"s":"D","d":"1995-04","v":92},{"s":"D","d":"1995-08","v":80},{"s":"D","d":"1996-02","v":53},{"s":"D","d":"1996-05","v":55},{"s":"D","d":"1996-09","v":51},
      {"s":"D","d":"1997-01","v":40},{"s":"D","d":"1997-06","v":69},{"s":"D","d":"1997-09","v":81},{"s":"D","d":"1997-11","v":78},{"s":"D","d":"1998-02","v":85},
      {"s":"D","d":"1998-05","v":85},{"s":"D","d":"1998-08","v":57},{"s":"D","d":"1998-12","v":53},{"s":"D","d":"1999-04","v":74},{"s":"D","d":"1999-09","v":71},
      {"s":"D","d":"2000-02","v":93},{"s":"D","d":"2000-04","v":72},{"s":"D","d":"2000-06","v":69},{"s":"D","d":"2000-10","v":84},{"s":"D","d":"2001-02","v":93},
      {"s":"D","d":"2001-05","v":74},{"s":"D","d":"2001-08","v":52},{"s":"D","d":"2001-12","v":25},{"s":"D","d":"2002-02","v":27},{"s":"D","d":"2002-08","v":19},
      {"s":"D","d":"2002-12","v":10},{"s":"D","d":"2003-05","v":2},{"s":"D","d":"2003-12","v":6},{"s":"D","d":"2004-06","v":11},{"s":"D","d":"2004-10","v":7},
      {"s":"D","d":"2005-04","v":5},{"s":"D","d":"2005-10","v":5},{"s":"D","d":"2006-02","v":13},{"s":"D","d":"2006-06","v":36},{"s":"D","d":"2006-12","v":58},
      {"s":"D","d":"2007-06","v":82},{"s":"D","d":"2007-10","v":78},{"s":"D","d":"2008-03","v":90},{"s":"D","d":"2008-06","v":64},{"s":"D","d":"2008-10","v":29},
      {"s":"D","d":"2009-01","v":8},{"s":"D","d":"2009-06","v":14},{"s":"D","d":"2009-10","v":29},{"s":"D","d":"2010-02","v":50},{"s":"D","d":"2010-05","v":67},
      {"s":"D","d":"2010-07","v":76},{"s":"D","d":"2010-09","v":73},{"s":"D","d":"2011-01","v":94},{"s":"D","d":"2011-08","v":87},{"s":"D","d":"2011-12","v":67},
      {"s":"D","d":"2012-05","v":72},{"s":"D","d":"2012-09","v":63},{"s":"D","d":"2013-01","v":72},{"s":"D","d":"2013-04","v":82},{"s":"D","d":"2013-08","v":77},
      {"s":"D","d":"2013-11","v":78},{"s":"D","d":"2014-04","v":80},{"s":"D","d":"2014-09","v":96},{"s":"D","d":"2015-02","v":78},{"s":"D","d":"2015-06","v":70},
      {"s":"D","d":"2015-11","v":31},{"s":"D","d":"2016-02","v":10},{"s":"D","d":"2016-08","v":29},{"s":"D","d":"2016-11","v":51},{"s":"D","d":"2017-02","v":60},
      {"s":"D","d":"2017-08","v":80},{"s":"D","d":"2018-01","v":94},{"s":"D","d":"2018-06","v":74},{"s":"D","d":"2018-09","v":73},{"s":"D","d":"2019-02","v":93},
      {"s":"D","d":"2019-06","v":80},{"s":"D","d":"2019-12","v":96},{"s":"D","d":"2020-02","v":95},{"s":"D","d":"2020-03","v":86.65},
      {"s":"K","d":"1995-03","v":93},{"s":"K","d":"1995-07","v":78},{"s":"K","d":"1996-01","v":51},{"s":"K","d":"1996-04","v":56},{"s":"K","d":"1996-08","v":52},
      {"s":"K","d":"1996-12","v":38},{"s":"K","d":"1997-05","v":70.6},{"s":"K","d":"1997-08","v":82},{"s":"K","d":"1997-10","v":77},{"s":"K","d":"1998-01","v":86},
      {"s":"K","d":"1998-04","v":87},{"s":"K","d":"1998-07","v":56},{"s":"K","d":"1998-11","v":53},{"s":"K","d":"1999-03","v":75},{"s":"K","d":"1999-08","v":71},
      {"s":"K","d":"2000-01","v":95},{"s":"K","d":"2000-03","v":71},{"s":"K","d":"2000-05","v":68},{"s":"K","d":"2000-09","v":85},{"s":"K","d":"2001-01","v":95},
      {"s":"K","d":"2001-04","v":74},{"s":"K","d":"2001-07","v":51},{"s":"K","d":"2001-11","v":23.5},{"s":"K","d":"2002-01","v":27},{"s":"K","d":"2002-07","v":19.4},
      {"s":"K","d":"2002-11","v":9.4},{"s":"K","d":"2003-04","v":0.6},{"s":"K","d":"2003-11","v":5.9},{"s":"K","d":"2004-05","v":11.8},{"s":"K","d":"2004-09","v":6.5},
      {"s":"K","d":"2005-03","v":4.7},{"s":"K","d":"2005-09","v":4.7},{"s":"K","d":"2006-01","v":13.5},{"s":"K","d":"2006-05","v":37},{"s":"K","d":"2006-11","v":59},
      {"s":"K","d":"2007-05","v":84},{"s":"K","d":"2007-09","v":78},{"s":"K","d":"2008-02","v":92},{"s":"K","d":"2008-05","v":65},{"s":"K","d":"2008-09","v":29},
      {"s":"K","d":"2008-12","v":6.5},{"s":"K","d":"2009-05","v":13.5},{"s":"K","d":"2009-09","v":29},{"s":"K","d":"2010-01","v":51},{"s":"K","d":"2010-04","v":68},
      {"s":"K","d":"2010-06","v":77},{"s":"K","d":"2010-08","v":73},{"s":"K","d":"2010-12","v":96},{"s":"K","d":"2011-07","v":88},{"s":"K","d":"2011-11","v":66.5},
      {"s":"K","d":"2012-04","v":73},{"s":"K","d":"2012-08","v":62},{"s":"K","d":"2012-12","v":72},{"s":"K","d":"2013-03","v":83},{"s":"K","d":"2013-07","v":77},
      {"s":"K","d":"2013-10","v":78},{"s":"K","d":"2014-03","v":80},{"s":"K","d":"2014-08","v":98},{"s":"K","d":"2015-01","v":78},{"s":"K","d":"2015-05","v":70.6},
      {"s":"K","d":"2015-10","v":31},{"s":"K","d":"2016-01","v":8.8},{"s":"K","d":"2016-07","v":29},{"s":"K","d":"2016-10","v":52},{"s":"K","d":"2017-01","v":60.6},
      {"s":"K","d":"2017-07","v":80},{"s":"K","d":"2017-12","v":96},{"s":"K","d":"2018-05","v":74},{"s":"K","d":"2018-08","v":73},{"s":"K","d":"2019-01","v":94},
      {"s":"K","d":"2019-05","v":80},{"s":"K","d":"2019-11","v":97},{"s":"K","d":"2020-02","v":89},{"s":"K","d":"2020-03","v":74.07}
    ],
    "mfi": [
      {"d":"1995-03","v":74.7},{"d":"1995-07","v":45},{"d":"1995-10","v":32},{"d":"1996-01","v":19},{"d":"1996-03","v":30},{"d":"1996-05","v":19},
      {"d":"1996-10","v":20},{"d":"1997-01","v":41},{"d":"1997-04","v":61},{"d":"1997-07","v":75},{"d":"1997-11","v":85},{"d":"1998-04","v":85},
      {"d":"1998-08","v":80.6},{"d":"1998-11","v":79},{"d":"1999-02","v":85},{"d":"1999-05","v":70.6},{"d":"1999-07","v":63},{"d":"1999-10","v":76.5},
      {"d":"2000-02","v":85},{"d":"2000-05","v":76.5},{"d":"2000-08","v":91},{"d":"2001-01","v":85},{"d":"2001-03","v":70.6},{"d":"2001-06","v":63},
      {"d":"2001-09","v":47},{"d":"2001-11","v":37.6},{"d":"2002-01","v":41},{"d":"2002-03","v":14},{"d":"2002-06","v":19},{"d":"2002-08","v":36.5},
      {"d":"2002-11","v":36.5},{"d":"2003-02","v":29},{"d":"2003-05","v":30.6},{"d":"2003-08","v":55},{"d":"2003-11","v":36.5},{"d":"2004-01","v":59},
      {"d":"2004-04","v":85},{"d":"2004-06","v":75},{"d":"2004-10","v":70},{"d":"2005-01","v":59},{"d":"2005-04","v":39},{"d":"2005-06","v":20},
      {"d":"2005-09","v":39},{"d":"2005-12","v":59},{"d":"2006-05","v":86.5},{"d":"2006-09","v":87.6},{"d":"2007-02","v":86.5},{"d":"2007-05","v":67},
      {"d":"2007-08","v":53},{"d":"2007-11","v":53},{"d":"2008-02","v":61},{"d":"2008-05","v":43.5},{"d":"2008-09","v":43.5},{"d":"2008-12","v":45},
      {"d":"2009-04","v":23.5},{"d":"2009-08","v":59},{"d":"2009-11","v":82},{"d":"2010-01","v":97},{"d":"2010-03","v":80.6},{"d":"2010-06","v":60},
      {"d":"2010-11","v":76},{"d":"2011-02","v":81.8},{"d":"2011-05","v":67.6},{"d":"2011-08","v":76},{"d":"2011-12","v":57},{"d":"2012-04","v":42},
      {"d":"2012-07","v":36.5},{"d":"2012-10","v":37.6},{"d":"2013-01","v":64.7},{"d":"2013-05","v":63},{"d":"2013-09","v":74.7},{"d":"2014-04","v":76},
      {"d":"2014-07","v":84.7},{"d":"2014-08","v":90.6},{"d":"2014-10","v":76},{"d":"2015-02","v":74.7},{"d":"2015-06","v":57},{"d":"2015-10","v":47},
      {"d":"2016-02","v":36.5},{"d":"2016-07","v":43.5},{"d":"2016-09","v":59},{"d":"2017-01","v":55},{"d":"2017-03","v":68.8},{"d":"2017-05","v":79},
      {"d":"2017-07","v":70},{"d":"2017-11","v":79},{"d":"2018-01","v":85},{"d":"2018-03","v":79},{"d":"2018-06","v":59},{"d":"2018-10","v":61},
      {"d":"2019-02","v":64},{"d":"2019-04","v":54},{"d":"2019-06","v":59},{"d":"2019-09","v":64.7},{"d":"2019-12","v":68.8},{"d":"2020-02","v":74.11}
    ],
    "mfiF": [
      {"g":"g1","d":"1997-09","v":80},{"g":"g1","d":"1997-11","v":85},{"g":"g1","d":"1998-04","v":85},{"g":"g1","d":"1998-08","v":80.6},{"g":"g1","d":"1998-09","v":80},
      {"g":"g2","d":"1998-12","v":80},{"g":"g2","d":"1999-02","v":85},{"g":"g2","d":"1999-03","v":80},
      {"g":"g3","d":"1999-11-20","v":80},{"g":"g3","d":"2000-02","v":85},{"g":"g3","d":"2000-03-23","v":80},
      {"g":"g4","d":"2000-05-22","v":80},{"g":"g4","d":"2000-08","v":91},{"g":"g4","d":"2001-01","v":85},{"g":"g4","d":"2001-01-21","v":80},
      {"g":"g5","d":"2006-03-25","v":80},{"g":"g5","d":"2006-05","v":86.5},{"g":"g5","d":"2006-09","v":87.6},{"g":"g5","d":"2007-02","v":86.5},{"g":"g5","d":"2007-03","v":80},
      {"g":"g6","d":"2009-10-23","v":80},{"g":"g6","d":"2009-11","v":82},{"g":"g6","d":"2010-01","v":97},{"g":"g6","d":"2010-03-04","v":80},
      {"g":"g7","d":"2014-05-12","v":80},{"g":"g7","d":"2014-07","v":84.7},{"g":"g7","d":"2014-08","v":90.6},{"g":"g7","d":"2014-09-14","v":80},
      {"g":"g8","d":"2017-11-11","v":80},{"g":"g8","d":"2018-01","v":85},{"g":"g8","d":"2018-02-20","v":80},
      {"g":"b","d":"2002-02-17","v":20},{"g":"b","d":"2002-03","v":14},{"g":"b","d":"2002-06","v":19},{"g":"b","d":"2002-06-04","v":20}
    ],
    "macd": [
      {"s":"Signal","d":"1995-03","v":8},{"s":"Signal","d":"1996-06","v":0},{"s":"Signal","d":"1997-01","v":-5},{"s":"Signal","d":"1997-07","v":0},
      {"s":"Signal","d":"1998-01","v":10},{"s":"Signal","d":"1998-07","v":25},{"s":"Signal","d":"1999-07","v":38},{"s":"Signal","d":"2000-01","v":42},
      {"s":"Signal","d":"2000-07","v":78},{"s":"Signal","d":"2001-02","v":125},{"s":"Signal","d":"2001-04","v":131},{"s":"Signal","d":"2001-08","v":90},
      {"s":"Signal","d":"2002-01","v":20},{"s":"Signal","d":"2002-07","v":-35},{"s":"Signal","d":"2003-01","v":-70},{"s":"Signal","d":"2003-07","v":-82},
      {"s":"Signal","d":"2003-12","v":-75},{"s":"Signal","d":"2004-04","v":-52},{"s":"Signal","d":"2004-10","v":-40},{"s":"Signal","d":"2005-07","v":-32},
      {"s":"Signal","d":"2006-01","v":-15},{"s":"Signal","d":"2006-07","v":5},{"s":"Signal","d":"2007-01","v":20},{"s":"Signal","d":"2007-09","v":27},
      {"s":"Signal","d":"2008-04","v":30},{"s":"Signal","d":"2008-09","v":15},{"s":"Signal","d":"2009-01","v":-10},{"s":"Signal","d":"2009-05","v":-30},
      {"s":"Signal","d":"2009-10","v":-15},{"s":"Signal","d":"2010-04","v":15},{"s":"Signal","d":"2010-10","v":50},{"s":"Signal","d":"2011-04","v":90},
      {"s":"Signal","d":"2011-07","v":107},{"s":"Signal","d":"2012-01","v":70},{"s":"Signal","d":"2012-08","v":30},{"s":"Signal","d":"2013-01","v":20},
      {"s":"Signal","d":"2013-07","v":22},{"s":"Signal","d":"2014-01","v":25},{"s":"Signal","d":"2014-07","v":32},{"s":"Signal","d":"2014-11","v":35},
      {"s":"Signal","d":"2015-04","v":25},{"s":"Signal","d":"2015-10","v":-5},{"s":"Signal","d":"2016-03","v":-35},{"s":"Signal","d":"2016-06","v":-45},
      {"s":"Signal","d":"2016-11","v":-35},{"s":"Signal","d":"2017-05","v":5},{"s":"Signal","d":"2017-12","v":55},{"s":"Signal","d":"2018-04","v":72},
      {"s":"Signal","d":"2018-09","v":70},{"s":"Signal","d":"2019-02","v":100},{"s":"Signal","d":"2019-07","v":135},{"s":"Signal","d":"2019-12","v":185},
      {"s":"Signal","d":"2020-03","v":228.3},
      {"s":"MACD","d":"1995-03","v":12},{"s":"MACD","d":"1995-08","v":10},{"s":"MACD","d":"1996-03","v":0},{"s":"MACD","d":"1996-10","v":-6},
      {"s":"MACD","d":"1997-01","v":-8},{"s":"MACD","d":"1997-05","v":5},{"s":"MACD","d":"1997-12","v":17},{"s":"MACD","d":"1998-06","v":37},
      {"s":"MACD","d":"1998-11","v":33},{"s":"MACD","d":"1999-03","v":40},{"s":"MACD","d":"1999-09","v":38},{"s":"MACD","d":"2000-01","v":48},
      {"s":"MACD","d":"2000-04","v":83},{"s":"MACD","d":"2000-06","v":96},{"s":"MACD","d":"2000-09","v":120},{"s":"MACD","d":"2000-11","v":131},
      {"s":"MACD","d":"2001-01","v":158},{"s":"MACD","d":"2001-03","v":143},{"s":"MACD","d":"2001-07","v":52},{"s":"MACD","d":"2001-10","v":-10},
      {"s":"MACD","d":"2002-01","v":-49},{"s":"MACD","d":"2002-06","v":-65},{"s":"MACD","d":"2002-11","v":-73},{"s":"MACD","d":"2003-05","v":-87},
      {"s":"MACD","d":"2003-08","v":-85},{"s":"MACD","d":"2003-12","v":-65},{"s":"MACD","d":"2004-05","v":-36},{"s":"MACD","d":"2004-10","v":-30},
      {"s":"MACD","d":"2005-04","v":-30},{"s":"MACD","d":"2005-10","v":-18},{"s":"MACD","d":"2006-03","v":9},{"s":"MACD","d":"2006-08","v":27},
      {"s":"MACD","d":"2007-03","v":27},{"s":"MACD","d":"2007-09","v":25},{"s":"MACD","d":"2007-12","v":23},{"s":"MACD","d":"2008-02","v":38},
      {"s":"MACD","d":"2008-05","v":37},{"s":"MACD","d":"2008-09","v":-2},{"s":"MACD","d":"2008-12","v":-33},{"s":"MACD","d":"2009-03","v":-42},
      {"s":"MACD","d":"2009-07","v":-30},{"s":"MACD","d":"2009-12","v":5},{"s":"MACD","d":"2010-04","v":40},{"s":"MACD","d":"2010-08","v":52},
      {"s":"MACD","d":"2010-11","v":91},{"s":"MACD","d":"2011-03","v":119},{"s":"MACD","d":"2011-06","v":119},{"s":"MACD","d":"2011-11","v":68},
      {"s":"MACD","d":"2012-04","v":29},{"s":"MACD","d":"2012-09","v":9},{"s":"MACD","d":"2013-01","v":25},{"s":"MACD","d":"2013-05","v":29},
      {"s":"MACD","d":"2014-01","v":25},{"s":"MACD","d":"2014-05","v":37},{"s":"MACD","d":"2014-08","v":51},{"s":"MACD","d":"2014-11","v":37},
      {"s":"MACD","d":"2015-03","v":21},{"s":"MACD","d":"2015-07","v":-10},{"s":"MACD","d":"2015-12","v":-45},{"s":"MACD","d":"2016-02","v":-61},
      {"s":"MACD","d":"2016-06","v":-53},{"s":"MACD","d":"2016-10","v":-30},{"s":"MACD","d":"2017-02","v":5},{"s":"MACD","d":"2017-07","v":40},
      {"s":"MACD","d":"2018-01","v":91},{"s":"MACD","d":"2018-07","v":64},{"s":"MACD","d":"2018-10","v":83},{"s":"MACD","d":"2019-03","v":138},
      {"s":"MACD","d":"2019-07","v":169},{"s":"MACD","d":"2019-10","v":201},{"s":"MACD","d":"2019-12","v":240},{"s":"MACD","d":"2020-02","v":312},
      {"s":"MACD","d":"2020-03","v":263.7}
    ],
    "macdTicks": [
      {"v":-50},{"v":0},{"v":50},{"v":100},{"v":150},{"v":200},{"v":250},{"v":300}
    ],
    "tl": [
      {"ln":"upper","d":"1994-01-01","p":731},{"ln":"upper","d":"2022-07-15","p":3630},
      {"ln":"lower","d":"1994-01-01","p":89},{"ln":"lower","d":"2028-06-15","p":632}
    ],
    "lb": [
      {"t":"182.90","d":"1995-04","p":182.9,"k":"hi"},{"t":"419.00","d":"1998-05","p":419,"k":"hi"},{"t":"835.00","d":"2000-02","p":835,"k":"hi"},
      {"t":"1090.00","d":"2001-01","p":1090,"k":"hi"},{"t":"344.70","d":"2004-04","p":344.7,"k":"hi"},{"t":"409.00","d":"2006-05","p":409,"k":"hi"},
      {"t":"594.00","d":"2008-02","p":594,"k":"hi"},{"t":"862.00","d":"2011-02","p":862,"k":"hi"},{"t":"788.45","d":"2013-03","p":788.45,"k":"hi"},
      {"t":"913.00","d":"2014-08","p":913,"k":"hi"},{"t":"1133.00","d":"2018-01","p":1133,"k":"hi"},{"t":"2789.80","d":"2020-02","p":2789.8,"k":"hi"},
      {"t":"116.00","d":"1996-12","p":116,"k":"lo"},{"t":"310.00","d":"2001-11","p":310,"k":"lo"},{"t":"148.50","d":"2003-04","p":148.5,"k":"lo"},
      {"t":"170.20","d":"2005-07","p":170.2,"k":"lo"},{"t":"267.10","d":"2006-06","p":267.1,"k":"lo"},{"t":"160.30","d":"2008-12","p":160.3,"k":"lo"},
      {"t":"555.90","d":"2012-07","p":555.9,"k":"lo"},{"t":"629.40","d":"2013-06","p":629.4,"k":"lo"},{"t":"451.50","d":"2016-01","p":451.5,"k":"lo"},
      {"t":"815.20","d":"2018-08","p":815.2,"k":"lo"}
    ],
    "hdr": [
      {"r":-1,"col":8,"t":"$PALL","k":"title"},
      {"r":-1,"col":9,"t":"Palladium - Continuous Contract (EOD) CME","k":"sub"},
      {"r":-1,"col":10,"t":"© StockCharts.com","k":"copy"},
      {"r":1,"col":0,"t":"Open:","k":"lab"},{"r":1,"col":1,"t":"2482.00","k":"val"},{"r":1,"col":2,"t":"Ask:","k":"lab"},
      {"r":1,"col":3,"t":"P/E:","k":"lab"},{"r":1,"col":4,"t":"Options:","k":"lab"},{"r":1,"col":5,"t":"no","k":"valL"},
      {"r":2,"col":0,"t":"High:","k":"lab"},{"r":2,"col":1,"t":"2576.90","k":"val"},{"r":2,"col":2,"t":"Ask Size:","k":"lab"},
      {"r":2,"col":3,"t":"EPS:","k":"lab"},{"r":2,"col":4,"t":"Annual Dividend:","k":"lab"},{"r":2,"col":5,"t":"N/A","k":"valL"},
      {"r":3,"col":0,"t":"Low:","k":"lab"},{"r":3,"col":1,"t":"1464.10","k":"val"},{"r":3,"col":2,"t":"Bid:","k":"lab"},
      {"r":3,"col":3,"t":"Last Size:","k":"lab"},{"r":3,"col":4,"t":"Yield:","k":"lab"},{"r":3,"col":5,"t":"N/A","k":"valL"},
      {"r":4,"col":0,"t":"Prev Close:","k":"lab"},{"r":4,"col":1,"t":"2491.10","k":"val"},{"r":4,"col":2,"t":"Bid Size:","k":"lab"},
      {"r":4,"col":3,"t":"VWAP:","k":"lab"},{"r":4,"col":4,"t":"SCTR:","k":"lab"},
      {"r":0,"col":7,"t":"Friday  13-Mar-2020","k":"date"},
      {"r":1,"col":6,"t":"▼","k":"tri"},{"r":1,"col":7,"t":"-39.42%","k":"pct"},
      {"r":2,"col":6,"t":"Chg:","k":"lab"},{"r":2,"col":7,"t":"-982.00","k":"val"},
      {"r":3,"col":6,"t":"Last:","k":"lab"},{"r":3,"col":7,"t":"1509.10","k":"val"},
      {"r":4,"col":6,"t":"Volume:","k":"lab"},{"r":4,"col":7,"t":"4,175,600","k":"val"}
    ]
  },
  "spacing": 0,
  "bounds": "flush",
  "resolve": {"scale": {"color": "independent", "strokeDash": "independent", "size": "independent", "shape": "independent", "strokeWidth": "independent"}},
  "vconcat": [
    {
      "width": 1257, "height": 70,
      "view": {"fill": "#d4b081"},
      "data": {"name": "hdr"},
      "layer": [
        {
          "transform": [{"filter": {"field": "k", "oneOf": ["lab", "sub", "tri"]}}],
          "mark": {"type": "text", "align": "left", "baseline": "middle", "font": "Liberation Sans"},
          "encoding": {
            "x": {"field": "col", "type": "quantitative", "scale": {"domain": [0,1,2,3,4,5,6,7,8,9,10], "range": [5,111,148,246,346,433,1150,1249,0,48,1257], "nice": false, "zero": false}, "axis": null},
            "y": {"field": "r", "type": "quantitative", "scale": {"domain": [-1,4], "range": [-9,64], "nice": false, "zero": false}, "axis": null},
            "text": {"field": "t"},
            "size": {"condition": [{"test": "datum.k === 'sub'", "value": 11}, {"test": "datum.k === 'tri'", "value": 15}], "value": 11},
            "color": {"condition": {"test": "datum.k === 'tri'", "value": "#8e0b3b"}, "value": "#000000"}
          }
        },
        {
          "transform": [{"filter": {"field": "k", "oneOf": ["title", "valL"]}}],
          "mark": {"type": "text", "align": "left", "baseline": "middle", "fontWeight": "bold", "font": "Liberation Sans", "color": "#000000"},
          "encoding": {
            "x": {"field": "col", "type": "quantitative", "scale": {"domain": [0,1,2,3,4,5,6,7,8,9,10], "range": [5,111,148,246,346,433,1150,1249,0,48,1257], "nice": false, "zero": false}, "axis": null},
            "y": {"field": "r", "type": "quantitative", "scale": {"domain": [-1,4], "range": [-9,64], "nice": false, "zero": false}, "axis": null},
            "text": {"field": "t"},
            "size": {"condition": {"test": "datum.k === 'title'", "value": 14.5}, "value": 12}
          }
        },
        {
          "transform": [{"filter": {"field": "k", "oneOf": ["date", "copy"]}}],
          "mark": {"type": "text", "align": "right", "baseline": "middle", "font": "Liberation Sans"},
          "encoding": {
            "x": {"field": "col", "type": "quantitative", "scale": {"domain": [0,1,2,3,4,5,6,7,8,9,10], "range": [5,111,148,246,346,433,1150,1249,0,48,1257], "nice": false, "zero": false}, "axis": null},
            "y": {"field": "r", "type": "quantitative", "scale": {"domain": [-1,4], "range": [-9,64], "nice": false, "zero": false}, "axis": null},
            "text": {"field": "t"},
            "size": {"value": 11.5},
            "color": {"condition": {"test": "datum.k === 'copy'", "value": "#555555"}, "value": "#000000"}
          }
        },
        {
          "transform": [{"filter": {"field": "k", "oneOf": ["val", "pct"]}}],
          "mark": {"type": "text", "align": "right", "baseline": "middle", "fontWeight": "bold", "font": "Liberation Sans"},
          "encoding": {
            "x": {"field": "col", "type": "quantitative", "scale": {"domain": [0,1,2,3,4,5,6,7,8,9,10], "range": [5,111,148,246,346,433,1150,1249,0,48,1257], "nice": false, "zero": false}, "axis": null},
            "y": {"field": "r", "type": "quantitative", "scale": {"domain": [-1,4], "range": [-9,64], "nice": false, "zero": false}, "axis": null},
            "text": {"field": "t"},
            "size": {"condition": {"test": "datum.k === 'pct'", "value": 15}, "value": 12.5},
            "color": {"condition": {"test": "datum.k === 'pct'", "value": "#a3103f"}, "value": "#000000"}
          }
        }
      ]
    },
    {
      "width": 1257, "height": 185,
      "view": {"fill": {"gradient": "linear", "x1": 0, "y1": 0, "x2": 0, "y2": 1, "stops": [{"offset": 0, "color": "#d6b384"}, {"offset": 1, "color": "#e5cfa4"}]}},
      "layer": [
        {
          "data": {"values": [{"v": 80}, {"v": 20}]},
          "mark": {"type": "rule", "color": "#7f776a", "strokeWidth": 1.2},
          "encoding": {"y": {"field": "v", "type": "quantitative", "scale": {"domain": [-4.5, 104.1], "nice": false}}}
        },
        {
          "data": {"values": [{"v": 50}]},
          "mark": {"type": "rule", "color": "#7c8490", "strokeWidth": 1, "strokeDash": [6, 3, 1, 3]},
          "encoding": {"y": {"field": "v", "type": "quantitative", "scale": {"domain": [-4.5, 104.1], "nice": false}}}
        },
        {
          "data": {"name": "sto"},
          "mark": {"type": "line", "interpolate": "monotone"},
          "encoding": {
            "x": {"field": "d", "type": "temporal",
              "scale": {"type": "utc", "nice": false, "domain": [{"year": 1995, "month": 3, "date": 7, "utc": true}, {"year": 2033, "month": 4, "date": 22, "utc": true}]},
              "axis": {"title": null, "labels": false, "ticks": false, "grid": true, "tickCount": {"interval": "year", "step": 1}}},
            "y": {"field": "v", "type": "quantitative", "scale": {"domain": [-4.5, 104.1], "nice": false},
              "axis": {"orient": "right", "title": null, "values": [20, 50, 80], "grid": false, "tickSize": 4, "labelPadding": 1, "labelFontSize": 10.5}},
            "color": {"field": "s", "type": "nominal", "scale": {"domain": ["D", "K"], "range": ["#ff1a1a", "#111111"]}, "legend": null},
            "strokeWidth": {"condition": {"test": "datum.s === 'K'", "value": 1.8}, "value": 1}
          }
        },
        {
          "data": {"values": [{}]},
          "mark": {"type": "text", "font": "Lato", "fontSize": 33, "color": "#6e8b47", "align": "left", "baseline": "alphabetic", "opacity": 0.92},
          "encoding": {
            "x": {"datum": {"year": 2025, "month": 5, "date": 10, "utc": true}, "type": "temporal"},
            "y": {"datum": 73.5, "type": "quantitative"},
            "text": {"value": "GoldPredict.com"}
          }
        },
        {
          "data": {"values": [{}]},
          "mark": {"type": "text", "font": "DejaVu Sans Mono", "fontSize": 10.3, "color": "#111111", "align": "left", "baseline": "middle", "dx": 3},
          "encoding": {
            "x": {"datum": {"year": 1995, "month": 3, "date": 7, "utc": true}, "type": "temporal"},
            "y": {"datum": 100, "type": "quantitative"},
            "text": {"value": "▬ Slow STO %K(60) %D(3) 74.07,"}
          }
        },
        {
          "data": {"values": [{}]},
          "mark": {"type": "text", "font": "DejaVu Sans Mono", "fontSize": 10.3, "color": "#ff1a1a", "align": "left", "baseline": "middle", "dx": 196},
          "encoding": {
            "x": {"datum": {"year": 1995, "month": 3, "date": 7, "utc": true}, "type": "temporal"},
            "y": {"datum": 100, "type": "quantitative"},
            "text": {"value": "86.65"}
          }
        }
      ]
    },
    {
      "width": 1257, "height": 185,
      "view": {"fill": {"gradient": "linear", "x1": 0, "y1": 0, "x2": 0, "y2": 1, "stops": [{"offset": 0, "color": "#e6d0a6"}, {"offset": 1, "color": "#f3e9c7"}]}},
      "layer": [
        {
          "data": {"values": [{"v": 80}, {"v": 20}]},
          "mark": {"type": "rule", "color": "#7f776a", "strokeWidth": 1.2},
          "encoding": {"y": {"field": "v", "type": "quantitative", "scale": {"domain": [-4.7, 103.7], "nice": false}}}
        },
        {
          "data": {"name": "mfiF"},
          "transform": [{"filter": "datum.g !== 'b'"}],
          "mark": {"type": "area", "color": "#5d7b45", "opacity": 1},
          "encoding": {
            "x": {"field": "d", "type": "temporal"},
            "y": {"field": "v", "type": "quantitative", "scale": {"domain": [-4.7, 103.7], "nice": false}},
            "y2": {"datum": 80},
            "detail": {"field": "g"}
          }
        },
        {
          "data": {"name": "mfiF"},
          "transform": [{"filter": "datum.g === 'b'"}],
          "mark": {"type": "area", "color": "#7a5437", "opacity": 1},
          "encoding": {
            "x": {"field": "d", "type": "temporal"},
            "y": {"field": "v", "type": "quantitative", "scale": {"domain": [-4.7, 103.7], "nice": false}},
            "y2": {"datum": 20}
          }
        },
        {
          "data": {"name": "mfi"},
          "mark": {"type": "line", "color": "#1a1a1a", "strokeWidth": 1},
          "encoding": {
            "x": {"field": "d", "type": "temporal",
              "scale": {"type": "utc", "nice": false, "domain": [{"year": 1995, "month": 3, "date": 7, "utc": true}, {"year": 2033, "month": 4, "date": 22, "utc": true}]},
              "axis": {"title": null, "labels": false, "ticks": false, "grid": true, "tickCount": {"interval": "year", "step": 1}}},
            "y": {"field": "v", "type": "quantitative", "scale": {"domain": [-4.7, 103.7], "nice": false},
              "axis": {"orient": "right", "title": null, "values": [20, 50, 80], "grid": false, "tickSize": 4, "labelPadding": 1, "labelFontSize": 10.5}}
          }
        },
        {
          "data": {"values": [{}]},
          "mark": {"type": "text", "font": "DejaVu Sans", "fontSize": 10, "color": "#4f6d3a", "align": "left", "baseline": "middle", "dx": 3},
          "encoding": {
            "x": {"datum": {"year": 1995, "month": 3, "date": 7, "utc": true}, "type": "temporal"},
            "y": {"datum": 99.6, "type": "quantitative"},
            "text": {"value": "▲"}
          }
        },
        {
          "data": {"values": [{}]},
          "mark": {"type": "text", "font": "DejaVu Sans Mono", "fontSize": 10.3, "color": "#111111", "align": "left", "baseline": "middle", "dx": 14},
          "encoding": {
            "x": {"datum": {"year": 1995, "month": 3, "date": 7, "utc": true}, "type": "temporal"},
            "y": {"datum": 99.6, "type": "quantitative"},
            "text": {"value": "MFI(14) 74.11 (28 Feb)"}
          }
        }
      ]
    },
    {
      "width": 1257, "height": 525,
      "view": {"fill": {"gradient": "linear", "x1": 0, "y1": 0, "x2": 0, "y2": 1, "stops": [{"offset": 0, "color": "#f4edca"}, {"offset": 0.3, "color": "#faf7dc"}, {"offset": 0.65, "color": "#efe1b6"}, {"offset": 1, "color": "#dcc08f"}]}},
      "resolve": {"scale": {"y": "independent"}, "axis": {"y": "independent"}},
      "layer": [
        {
          "data": {"name": "px"},
          "mark": {"type": "bar", "size": 2.2, "opacity": 0.9},
          "encoding": {
            "x": {"field": "d", "type": "temporal",
              "scale": {"type": "utc", "nice": false, "domain": [{"year": 1995, "month": 3, "date": 7, "utc": true}, {"year": 2033, "month": 4, "date": 22, "utc": true}]},
              "axis": {"orient": "bottom", "title": null, "tickCount": {"interval": "month", "step": 6},
                "labelExpr": "utcmonth(datum.value) == 0 ? utcFormat(datum.value, '%Y') : ''",
                "grid": true, "ticks": true, "tickSize": 3, "labelPadding": 1, "labelFontSize": 10.5, "labelOverlap": false, "labelFlush": false}},
            "y": {"field": "v", "type": "quantitative", "scale": {"domain": [0, 48.2], "nice": false},
              "axis": {"orient": "left", "title": null, "values": [2, 4, 6, 8, 10, 12, 14], "labelExpr": "datum.value + 'M'", "grid": false, "tickSize": 3, "labelPadding": 1, "labelFontSize": 10.5}},
            "color": {"condition": {"test": "datum.c >= datum.o", "value": "#a29983"}, "value": "#e49c8a"}
          }
        },
        {
          "layer": [
            {
              "data": {"name": "ma"},
              "mark": {"type": "line", "interpolate": "monotone"},
              "encoding": {
                "x": {"field": "d", "type": "temporal"},
                "y": {"field": "v", "type": "quantitative", "scale": {"type": "log", "domain": [101.3, 3142], "nice": false},
                  "axis": {"orient": "right", "title": null, "values": [200,300,400,500,600,700,800,900,1000,1100,1200,1300,1400,1500,1600,1700,1800,1900,2000,2100,2200,2300,2400,2500,2600,2700,2800],
                    "format": "d", "grid": true, "gridColor": "#cdb992", "tickSize": 3, "labelPadding": 1, "labelFontSize": 9.5, "labelOverlap": false}},
                "color": {"field": "s", "type": "nominal", "scale": {"domain": ["EMA(20)", "EMA(50)", "MA(200)", "EMA(10)"], "range": ["#1c1caa", "#e0203e", "#1b6e1b", "#1b7a1b"]}, "legend": null},
                "strokeDash": {"field": "s", "type": "nominal", "scale": {"domain": ["EMA(20)", "EMA(50)", "MA(200)", "EMA(10)"], "range": [[1, 0], [1, 0], [1, 0], [2.5, 2.5]]}, "legend": null},
                "strokeWidth": {"condition": {"test": "datum.s === 'EMA(10)'", "value": 2.6}, "value": 1}
              }
            },
            {
              "data": {"name": "px"},
              "mark": {"type": "rule", "strokeWidth": 1},
              "encoding": {
                "x": {"field": "d", "type": "temporal"},
                "y": {"field": "l", "type": "quantitative", "scale": {"type": "log", "domain": [101.3, 3142], "nice": false}},
                "y2": {"field": "h"},
                "color": {"condition": {"test": "datum.c >= datum.o", "value": "#111111"}, "value": "#d7263d"}
              }
            },
            {
              "data": {"name": "px"},
              "mark": {"type": "bar", "size": 2.6, "strokeWidth": 0.7},
              "encoding": {
                "x": {"field": "d", "type": "temporal"},
                "y": {"field": "o", "type": "quantitative", "scale": {"type": "log", "domain": [101.3, 3142], "nice": false}},
                "y2": {"field": "c"},
                "fill": {"condition": {"test": "datum.c >= datum.o", "value": "#fbf8e8"}, "value": "#d7263d"},
                "stroke": {"condition": {"test": "datum.c >= datum.o", "value": "#111111"}, "value": "#d7263d"}
              }
            },
            {
              "data": {"name": "tl"},
              "mark": {"type": "line", "color": "#1515f2", "strokeWidth": 2.4, "clip": false},
              "encoding": {
                "x": {"field": "d", "type": "temporal"},
                "y": {"field": "p", "type": "quantitative", "scale": {"type": "log", "domain": [101.3, 3142], "nice": false}},
                "detail": {"field": "ln"}
              }
            },
            {
              "data": {"values": [{}]},
              "mark": {"type": "rule", "color": "#f01818", "strokeWidth": 1.6},
              "encoding": {
                "x": {"datum": {"year": 2020, "month": 10, "date": 12, "utc": true}, "type": "temporal"},
                "y": {"datum": 1415, "type": "quantitative"},
                "x2": {"datum": {"year": 2022, "month": 2, "date": 7, "utc": true}},
                "y2": {"datum": 492}
              }
            },
            {
              "data": {"values": [{}]},
              "mark": {"type": "point", "shape": "triangle-down", "size": 130, "filled": true, "color": "#f01818", "opacity": 1, "angle": -15},
              "encoding": {
                "x": {"datum": {"year": 2022, "month": 2, "date": 7, "utc": true}, "type": "temporal"},
                "y": {"datum": 492, "type": "quantitative"}
              }
            },
            {
              "data": {"values": [{}]},
              "mark": {"type": "rule", "color": "#9a9a9a", "strokeWidth": 2},
              "encoding": {
                "x": {"datum": {"year": 2020, "month": 4, "date": 1, "utc": true}, "type": "temporal"},
                "y": {"datum": 1949, "type": "quantitative"},
                "x2": {"datum": {"year": 2022, "month": 4, "date": 20, "utc": true}},
                "y2": {"datum": 2000}
              }
            },
            {
              "data": {"values": [{}]},
              "mark": {"type": "rect", "color": "#8f8f8f", "opacity": 0.55, "xOffset": 3, "x2Offset": 3, "yOffset": 3, "y2Offset": 3, "clip": false},
              "encoding": {
                "x": {"datum": {"year": 2022, "month": 4, "date": 7, "utc": true}, "type": "temporal"},
                "x2": {"datum": {"year": 2031, "month": 6, "date": 16, "utc": true}},
                "y": {"datum": 3466, "type": "quantitative"},
                "y2": {"datum": 1118}
              }
            },
            {
              "data": {"values": [{}]},
              "mark": {"type": "rect", "fill": "#ffffff", "stroke": "#8a8a8a", "strokeWidth": 1, "opacity": 1, "clip": false},
              "encoding": {
                "x": {"datum": {"year": 2022, "month": 4, "date": 7, "utc": true}, "type": "temporal"},
                "x2": {"datum": {"year": 2031, "month": 6, "date": 16, "utc": true}},
                "y": {"datum": 3466, "type": "quantitative"},
                "y2": {"datum": 1118}
              }
            },
            {
              "data": {"values": [{}]},
              "mark": {"type": "text", "font": "Liberation Sans", "fontWeight": "bold", "fontSize": 18.3, "color": "#ff0000", "align": "left", "baseline": "top", "lineHeight": 21, "dx": 4, "dy": 4},
              "encoding": {
                "x": {"datum": {"year": 2022, "month": 4, "date": 7, "utc": true}, "type": "temporal"},
                "y": {"datum": 3466, "type": "quantitative"},
                "text": {"value": ["I have to see where prices finish", "the month, but it's beginning to", "look like palladium reached a", "multi-year peak just shy of the", "upper boundary. A monthly close", "below $1580 would confirm a top", "and support a decline to the", "lower trend channel around $500."]}
              }
            },
            {
              "data": {"values": [{}]},
              "mark": {"type": "text", "font": "Liberation Sans", "fontWeight": "bold", "fontSize": 16, "color": "#f21c1c", "align": "left", "baseline": "alphabetic", "lineHeight": 19},
              "encoding": {
                "x": {"datum": {"year": 1997, "month": 8, "date": 20, "utc": true}, "type": "temporal"},
                "y": {"datum": 2080, "type": "quantitative"},
                "text": {"value": ["Peaks in every", "other zero year."]}
              }
            },
            {
              "data": {"values": [{}]},
              "mark": {"type": "text", "font": "Liberation Sans", "fontSize": 16, "color": "#ee1b1b", "align": "left", "baseline": "alphabetic", "lineHeight": 19.7},
              "encoding": {
                "x": {"datum": {"year": 2021, "month": 2, "date": 20, "utc": true}, "type": "temporal"},
                "y": {"datum": 333, "type": "quantitative"},
                "text": {"value": ["Crash to", "$500 - $600 ?"]}
              }
            },
            {
              "data": {"values": [{}]},
              "mark": {"type": "point", "shape": "M-0.4,-1L0.4,-1L0.4,0L1,0L0,1L-1,0L-0.4,0Z", "size": 240, "filled": true, "color": "#1d6b1d", "opacity": 1},
              "encoding": {
                "x": {"datum": {"year": 2001, "month": 2, "date": 10, "utc": true}, "type": "temporal"},
                "y": {"datum": 1307, "type": "quantitative"}
              }
            },
            {
              "data": {"values": [{}]},
              "mark": {"type": "point", "shape": "M0,-1L1,0L0.4,0L0.4,1L-0.4,1L-0.4,0L-1,0Z", "size": 240, "filled": true, "color": "#ff0000", "opacity": 1},
              "encoding": {
                "x": {"datum": {"year": 2003, "month": 4, "date": 15, "utc": true}, "type": "temporal"},
                "y": {"datum": 119.3, "type": "quantitative"}
              }
            },
            {
              "data": {"values": [{}]},
              "mark": {"type": "point", "shape": "M0,-1L1,0L0.4,0L0.4,1L-0.4,1L-0.4,0L-1,0Z", "size": 240, "filled": true, "color": "#ff0000", "opacity": 1},
              "encoding": {
                "x": {"datum": {"year": 2022, "month": 3, "date": 15, "utc": true}, "type": "temporal"},
                "y": {"datum": 401.7, "type": "quantitative"}
              }
            },
            {
              "data": {"name": "lb"},
              "transform": [{"filter": "datum.k === 'hi'"}],
              "mark": {"type": "point", "filled": true, "fill": "#fbfbf6", "stroke": "#9a9a9a", "strokeWidth": 0.8, "opacity": 1, "yOffset": -12},
              "encoding": {
                "x": {"field": "d", "type": "temporal"},
                "y": {"field": "p", "type": "quantitative"},
                "shape": {"condition": {"test": "length(datum.t) > 6", "value": "M-1,-0.3L1,-0.3L1,0.3L-1,0.3Z"}, "value": "M-1,-0.35L1,-0.35L1,0.35L-1,0.35Z"},
                "size": {"condition": {"test": "length(datum.t) > 6", "value": 1764}, "value": 1225}
              }
            },
            {
              "data": {"name": "lb"},
              "transform": [{"filter": "datum.k === 'hi'"}],
              "mark": {"type": "text", "font": "Liberation Sans", "fontSize": 10, "color": "#111111", "baseline": "middle", "align": "center", "yOffset": -12},
              "encoding": {
                "x": {"field": "d", "type": "temporal"},
                "y": {"field": "p", "type": "quantitative"},
                "text": {"field": "t"}
              }
            },
            {
              "data": {"name": "lb"},
              "transform": [{"filter": "datum.k === 'lo'"}],
              "mark": {"type": "point", "filled": true, "fill": "#fbfbf6", "stroke": "#9a9a9a", "strokeWidth": 0.8, "opacity": 1, "yOffset": 13},
              "encoding": {
                "x": {"field": "d", "type": "temporal"},
                "y": {"field": "p", "type": "quantitative"},
                "shape": {"condition": {"test": "length(datum.t) > 6", "value": "M-1,-0.3L1,-0.3L1,0.3L-1,0.3Z"}, "value": "M-1,-0.35L1,-0.35L1,0.35L-1,0.35Z"},
                "size": {"condition": {"test": "length(datum.t) > 6", "value": 1764}, "value": 1225}
              }
            },
            {
              "data": {"name": "lb"},
              "transform": [{"filter": "datum.k === 'lo'"}],
              "mark": {"type": "text", "font": "Liberation Sans", "fontSize": 10, "color": "#111111", "baseline": "middle", "align": "center", "yOffset": 13},
              "encoding": {
                "x": {"field": "d", "type": "temporal"},
                "y": {"field": "p", "type": "quantitative"},
                "text": {"field": "t"}
              }
            },
            {
              "data": {"values": [{}]},
              "mark": {"type": "text", "font": "DejaVu Sans Mono", "fontSize": 10, "color": "#111111", "align": "left", "baseline": "middle", "dx": 1},
              "encoding": {"x": {"datum": {"year": 1995, "month": 3, "date": 7, "utc": true}, "type": "temporal"}, "y": {"datum": 3021, "type": "quantitative"}, "text": {"value": "╫ $PALL (Monthly) 1509.10"}}
            },
            {
              "data": {"values": [{}]},
              "mark": {"type": "text", "font": "DejaVu Sans Mono", "fontSize": 10, "color": "#1c1caa", "align": "left", "baseline": "middle", "dx": 1},
              "encoding": {"x": {"datum": {"year": 1995, "month": 3, "date": 7, "utc": true}, "type": "temporal"}, "y": {"datum": 2811, "type": "quantitative"}, "text": {"value": "━ EMA(20) 1584.75"}}
            },
            {
              "data": {"values": [{}]},
              "mark": {"type": "text", "font": "DejaVu Sans Mono", "fontSize": 10, "color": "#e0203e", "align": "left", "baseline": "middle", "dx": 1},
              "encoding": {"x": {"datum": {"year": 1995, "month": 3, "date": 7, "utc": true}, "type": "temporal"}, "y": {"datum": 2616, "type": "quantitative"}, "text": {"value": "━ EMA(50) 1238.20"}}
            },
            {
              "data": {"values": [{}]},
              "mark": {"type": "text", "font": "DejaVu Sans Mono", "fontSize": 10, "color": "#1b6e1b", "align": "left", "baseline": "middle", "dx": 1},
              "encoding": {"x": {"datum": {"year": 1995, "month": 3, "date": 7, "utc": true}, "type": "temporal"}, "y": {"datum": 2435, "type": "quantitative"}, "text": {"value": "━ MA(200) 634.77"}}
            },
            {
              "data": {"values": [{}]},
              "mark": {"type": "text", "font": "DejaVu Sans Mono", "fontSize": 10, "color": "#1b6e1b", "align": "left", "baseline": "middle", "dx": 1},
              "encoding": {"x": {"datum": {"year": 1995, "month": 3, "date": 7, "utc": true}, "type": "temporal"}, "y": {"datum": 2273, "type": "quantitative"}, "text": {"value": "╍ EMA(10) 1799.21"}}
            },
            {
              "data": {"values": [{}]},
              "mark": {"type": "text", "font": "DejaVu Sans Mono", "fontSize": 10, "color": "#555555", "align": "left", "baseline": "middle", "dx": 1},
              "encoding": {"x": {"datum": {"year": 1995, "month": 3, "date": 7, "utc": true}, "type": "temporal"}, "y": {"datum": 2122, "type": "quantitative"}, "text": {"value": "▮ Volume 4,175,600"}}
            }
          ]
        }
      ]
    },
    {
      "width": 1257, "height": 15,
      "view": {"fill": null, "stroke": null},
      "data": {"values": [{}]},
      "mark": {"type": "text"},
      "encoding": {"text": {"value": ""}}
    },
    {
      "width": 1257, "height": 183,
      "view": {"fill": {"gradient": "linear", "x1": 0, "y1": 0, "x2": 0, "y2": 1, "stops": [{"offset": 0, "color": "#e1c89c"}, {"offset": 1, "color": "#cfa877"}]}},
      "layer": [
        {
          "data": {"values": [{"v": 0}]},
          "mark": {"type": "rule", "color": "#5a5a5a", "strokeWidth": 1},
          "encoding": {"y": {"field": "v", "type": "quantitative", "scale": {"domain": [-102.4, 325.8], "nice": false},
            "axis": {"orient": "right", "title": null, "values": [-50, 0, 50, 100, 150, 200, 250, 300], "grid": false, "tickSize": 4, "labels": false}}}
        },
        {
          "data": {"name": "px"},
          "mark": {"type": "bar", "size": 2.3, "color": "#4aa0d5", "stroke": "#1d5f8c", "strokeWidth": 0.4},
          "encoding": {
            "x": {"field": "d", "type": "temporal",
              "scale": {"type": "utc", "nice": false, "domain": [{"year": 1995, "month": 3, "date": 7, "utc": true}, {"year": 2033, "month": 4, "date": 22, "utc": true}]},
              "axis": {"orient": "bottom", "title": null, "tickCount": {"interval": "year", "step": 1}, "labelExpr": "utcFormat(datum.value, '%Y')",
                "grid": true, "ticks": true, "tickSize": 3, "labelPadding": 1, "labelFontSize": 10.5, "labelOverlap": false, "labelFlush": false}},
            "y": {"field": "hs", "type": "quantitative"}
          }
        },
        {
          "data": {"name": "macd"},
          "mark": {"type": "line", "interpolate": "monotone"},
          "encoding": {
            "x": {"field": "d", "type": "temporal"},
            "y": {"field": "v", "type": "quantitative"},
            "color": {"field": "s", "type": "nominal", "scale": {"domain": ["Signal", "MACD"], "range": ["#ff1a1a", "#111111"]}, "legend": null},
            "strokeWidth": {"condition": {"test": "datum.s === 'MACD'", "value": 1.8}, "value": 1}
          }
        },
        {
          "data": {"name": "macdTicks"},
          "mark": {"type": "text", "font": "Liberation Sans", "fontSize": 10, "color": "#111111", "align": "left", "baseline": "middle", "dx": 6, "clip": false},
          "encoding": {
            "x": {"datum": {"year": 2033, "month": 4, "date": 22, "utc": true}, "type": "temporal"},
            "y": {"field": "v", "type": "quantitative"},
            "text": {"field": "v", "type": "quantitative"}
          }
        },
        {
          "data": {"values": [{}]},
          "mark": {"type": "text", "font": "DejaVu Sans Mono", "fontSize": 10.3, "color": "#111111", "align": "left", "baseline": "middle", "dx": 4},
          "encoding": {"x": {"datum": {"year": 1995, "month": 3, "date": 7, "utc": true}, "type": "temporal"}, "y": {"datum": 310, "type": "quantitative"}, "text": {"value": "▬ MACD(12,26,9) 263.727,"}}
        },
        {
          "data": {"values": [{}]},
          "mark": {"type": "text", "font": "DejaVu Sans Mono", "fontSize": 10.3, "color": "#ff1a1a", "align": "left", "baseline": "middle", "dx": 156},
          "encoding": {"x": {"datum": {"year": 1995, "month": 3, "date": 7, "utc": true}, "type": "temporal"}, "y": {"datum": 310, "type": "quantitative"}, "text": {"value": "228.305,"}}
        },
        {
          "data": {"values": [{}]},
          "mark": {"type": "text", "font": "DejaVu Sans Mono", "fontSize": 10.3, "color": "#3a96c8", "align": "left", "baseline": "middle", "dx": 210},
          "encoding": {"x": {"datum": {"year": 1995, "month": 3, "date": 7, "utc": true}, "type": "temporal"}, "y": {"datum": 310, "type": "quantitative"}, "text": {"value": "35.422"}}
        }
      ]
    }
  ]
}
